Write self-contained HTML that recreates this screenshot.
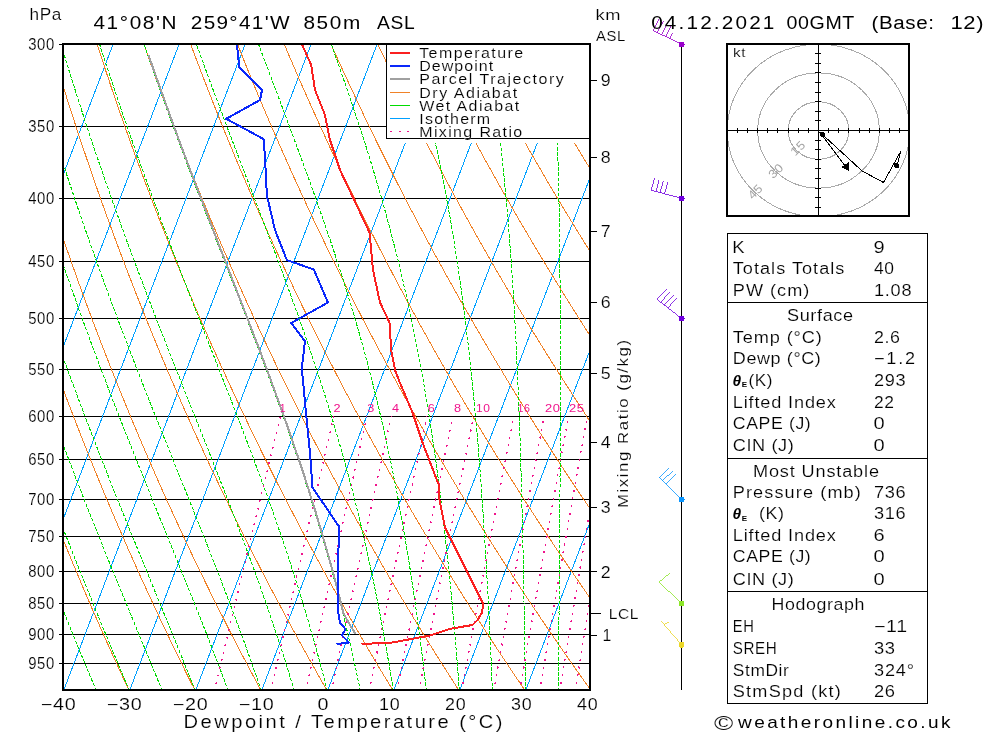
<!DOCTYPE html>
<html><head><meta charset="utf-8"><title>Skew-T</title><style>html,body{margin:0;padding:0;background:#fff;font-family:"Liberation Sans",sans-serif}svg{display:block;will-change:transform}text{stroke:#fff;stroke-width:.15px;paint-order:fill stroke}text.b{stroke:none}</style></head><body>
<svg width="1000" height="733" viewBox="0 0 1000 733" shape-rendering="crispEdges" font-family="Liberation Sans, sans-serif">
<defs><clipPath id="cp"><rect x="64.0" y="45.0" width="525.0" height="644.0"/></clipPath></defs>
<g clip-path="url(#cp)" fill="none" shape-rendering="crispEdges">
<line x1="63.0" y1="126.5" x2="590.0" y2="126.5" stroke="#000" stroke-width="1"/>
<line x1="63.0" y1="198.5" x2="590.0" y2="198.5" stroke="#000" stroke-width="1"/>
<line x1="63.0" y1="261.5" x2="590.0" y2="261.5" stroke="#000" stroke-width="1"/>
<line x1="63.0" y1="318.5" x2="590.0" y2="318.5" stroke="#000" stroke-width="1"/>
<line x1="63.0" y1="369.5" x2="590.0" y2="369.5" stroke="#000" stroke-width="1"/>
<line x1="63.0" y1="416.5" x2="590.0" y2="416.5" stroke="#000" stroke-width="1"/>
<line x1="63.0" y1="459.5" x2="590.0" y2="459.5" stroke="#000" stroke-width="1"/>
<line x1="63.0" y1="499.5" x2="590.0" y2="499.5" stroke="#000" stroke-width="1"/>
<line x1="63.0" y1="536.5" x2="590.0" y2="536.5" stroke="#000" stroke-width="1"/>
<line x1="63.0" y1="571.5" x2="590.0" y2="571.5" stroke="#000" stroke-width="1"/>
<line x1="63.0" y1="603.5" x2="590.0" y2="603.5" stroke="#000" stroke-width="1"/>
<line x1="63.0" y1="634.5" x2="590.0" y2="634.5" stroke="#000" stroke-width="1"/>
<line x1="63.0" y1="663.5" x2="590.0" y2="663.5" stroke="#000" stroke-width="1"/>
<path d="M-464.2 690.0 L-216.8 44.0 M-398.2 690.0 L-150.8 44.0 M-332.2 690.0 L-84.8 44.0 M-266.2 690.0 L-18.8 44.0 M-200.2 690.0 L47.2 44.0 M-134.2 690.0 L113.2 44.0 M-68.2 690.0 L179.2 44.0 M-2.2 690.0 L245.2 44.0 M63.8 690.0 L311.2 44.0 M129.8 690.0 L377.2 44.0 M195.8 690.0 L443.2 44.0 M261.8 690.0 L509.2 44.0 M327.8 690.0 L575.2 44.0 M393.8 690.0 L641.2 44.0 M459.8 690.0 L707.2 44.0 M525.8 690.0 L773.2 44.0 M591.8 690.0 L839.2 44.0" stroke="#00a0ff" stroke-width="1"/>
<path d="M128.9 690.0 L126.5 685.0 L124.2 680.0 L121.9 675.0 L119.6 670.0 L117.3 665.0 L115.0 660.0 L112.7 655.0 L110.4 650.0 L108.2 645.0 L105.9 640.0 L103.7 635.0 L101.5 630.0 L99.3 625.0 L97.1 620.0 L94.9 615.0 L92.7 610.0 L90.5 605.0 L88.4 600.0 L86.2 595.0 L84.1 590.0 L82.0 585.0 L79.9 580.0 L77.8 575.0 L75.7 570.0 L73.6 565.0 L71.5 560.0 L69.5 555.0 L67.4 550.0 L65.4 545.0 L63.3 540.0 L61.3 535.0 L59.3 530.0 L57.3 525.0 L55.3 520.0 L53.4 515.0 L51.4 510.0 L49.4 505.0 L47.5 500.0 L45.6 495.0 L43.6 490.0 L41.7 485.0 L39.8 480.0 L37.9 475.0 L36.0 470.0 L34.2 465.0 L32.3 460.0 L30.4 455.0 L28.6 450.0 L26.8 445.0 L24.9 440.0 L23.1 435.0 L21.3 430.0 L19.5 425.0 L17.7 420.0 L16.0 415.0 L14.2 410.0 L12.4 405.0 L10.7 400.0 L9.0 395.0 L7.2 390.0 L5.5 385.0 L3.8 380.0 L2.1 375.0 L0.4 370.0 L-1.2 365.0 L-2.9 360.0 L-4.6 355.0 L-6.2 350.0 L-7.9 345.0 L-9.5 340.0 L-11.1 335.0 L-12.7 330.0 L-14.3 325.0 L-15.9 320.0 L-17.5 315.0 L-19.1 310.0 L-20.6 305.0 L-22.2 300.0 L-23.8 295.0 L-25.3 290.0 L-26.8 285.0 L-28.3 280.0 L-29.8 275.0 L-31.3 270.0 L-32.8 265.0 L-34.3 260.0 L-35.8 255.0 L-37.3 250.0 L-38.7 245.0 L-40.2 240.0 L-41.6 235.0 L-43.0 230.0 L-44.5 225.0 L-45.9 220.0 L-47.3 215.0 L-48.7 210.0 L-50.0 205.0 L-51.4 200.0 L-52.8 195.0 L-54.1 190.0 L-55.5 185.0 L-56.8 180.0 L-58.2 175.0 L-59.5 170.0 L-60.8 165.0 L-62.1 160.0 L-63.4 155.0 L-64.7 150.0 L-66.0 145.0 L-67.3 140.0 L-68.5 135.0 L-69.8 130.0 L-71.0 125.0 L-72.3 120.0 L-73.5 115.0 L-74.7 110.0 L-75.9 105.0 L-77.1 100.0 L-78.3 95.0 L-79.5 90.0 L-80.7 85.0 L-81.9 80.0 L-83.0 75.0 L-84.2 70.0 L-85.3 65.0 L-86.5 60.0 L-87.6 55.0 L-88.7 50.0 L-89.9 45.0 L-90.1 44.0 M194.9 690.0 L192.3 685.0 L189.8 680.0 L187.3 675.0 L184.8 670.0 L182.4 665.0 L179.9 660.0 L177.5 655.0 L175.0 650.0 L172.6 645.0 L170.2 640.0 L167.8 635.0 L165.4 630.0 L163.0 625.0 L160.6 620.0 L158.3 615.0 L155.9 610.0 L153.6 605.0 L151.3 600.0 L149.0 595.0 L146.7 590.0 L144.4 585.0 L142.1 580.0 L139.8 575.0 L137.6 570.0 L135.3 565.0 L133.1 560.0 L130.9 555.0 L128.6 550.0 L126.4 545.0 L124.3 540.0 L122.1 535.0 L119.9 530.0 L117.7 525.0 L115.6 520.0 L113.5 515.0 L111.3 510.0 L109.2 505.0 L107.1 500.0 L105.0 495.0 L102.9 490.0 L100.9 485.0 L98.8 480.0 L96.8 475.0 L94.7 470.0 L92.7 465.0 L90.7 460.0 L88.7 455.0 L86.7 450.0 L84.7 445.0 L82.7 440.0 L80.7 435.0 L78.8 430.0 L76.8 425.0 L74.9 420.0 L73.0 415.0 L71.0 410.0 L69.1 405.0 L67.2 400.0 L65.3 395.0 L63.5 390.0 L61.6 385.0 L59.7 380.0 L57.9 375.0 L56.1 370.0 L54.2 365.0 L52.4 360.0 L50.6 355.0 L48.8 350.0 L47.0 345.0 L45.3 340.0 L43.5 335.0 L41.7 330.0 L40.0 325.0 L38.3 320.0 L36.5 315.0 L34.8 310.0 L33.1 305.0 L31.4 300.0 L29.7 295.0 L28.0 290.0 L26.4 285.0 L24.7 280.0 L23.1 275.0 L21.4 270.0 L19.8 265.0 L18.2 260.0 L16.5 255.0 L14.9 250.0 L13.3 245.0 L11.8 240.0 L10.2 235.0 L8.6 230.0 L7.1 225.0 L5.5 220.0 L4.0 215.0 L2.4 210.0 L0.9 205.0 L-0.6 200.0 L-2.1 195.0 L-3.6 190.0 L-5.1 185.0 L-6.5 180.0 L-8.0 175.0 L-9.5 170.0 L-10.9 165.0 L-12.4 160.0 L-13.8 155.0 L-15.2 150.0 L-16.6 145.0 L-18.0 140.0 L-19.4 135.0 L-20.8 130.0 L-22.2 125.0 L-23.6 120.0 L-24.9 115.0 L-26.3 110.0 L-27.6 105.0 L-28.9 100.0 L-30.3 95.0 L-31.6 90.0 L-32.9 85.0 L-34.2 80.0 L-35.5 75.0 L-36.8 70.0 L-38.0 65.0 L-39.3 60.0 L-40.6 55.0 L-41.8 50.0 L-43.1 45.0 L-43.3 44.0 M260.8 690.0 L258.1 685.0 L255.4 680.0 L252.8 675.0 L250.1 670.0 L247.5 665.0 L244.8 660.0 L242.2 655.0 L239.6 650.0 L237.0 645.0 L234.4 640.0 L231.8 635.0 L229.3 630.0 L226.7 625.0 L224.2 620.0 L221.7 615.0 L219.1 610.0 L216.6 605.0 L214.1 600.0 L211.7 595.0 L209.2 590.0 L206.7 585.0 L204.3 580.0 L201.9 575.0 L199.4 570.0 L197.0 565.0 L194.6 560.0 L192.2 555.0 L189.9 550.0 L187.5 545.0 L185.2 540.0 L182.8 535.0 L180.5 530.0 L178.2 525.0 L175.9 520.0 L173.6 515.0 L171.3 510.0 L169.0 505.0 L166.7 500.0 L164.5 495.0 L162.2 490.0 L160.0 485.0 L157.8 480.0 L155.6 475.0 L153.4 470.0 L151.2 465.0 L149.0 460.0 L146.9 455.0 L144.7 450.0 L142.6 445.0 L140.4 440.0 L138.3 435.0 L136.2 430.0 L134.1 425.0 L132.0 420.0 L129.9 415.0 L127.9 410.0 L125.8 405.0 L123.8 400.0 L121.7 395.0 L119.7 390.0 L117.7 385.0 L115.7 380.0 L113.7 375.0 L111.7 370.0 L109.7 365.0 L107.8 360.0 L105.8 355.0 L103.9 350.0 L101.9 345.0 L100.0 340.0 L98.1 335.0 L96.2 330.0 L94.3 325.0 L92.4 320.0 L90.6 315.0 L88.7 310.0 L86.8 305.0 L85.0 300.0 L83.2 295.0 L81.4 290.0 L79.5 285.0 L77.7 280.0 L75.9 275.0 L74.2 270.0 L72.4 265.0 L70.6 260.0 L68.9 255.0 L67.1 250.0 L65.4 245.0 L63.7 240.0 L62.0 235.0 L60.3 230.0 L58.6 225.0 L56.9 220.0 L55.2 215.0 L53.5 210.0 L51.9 205.0 L50.2 200.0 L48.6 195.0 L47.0 190.0 L45.4 185.0 L43.7 180.0 L42.1 175.0 L40.6 170.0 L39.0 165.0 L37.4 160.0 L35.8 155.0 L34.3 150.0 L32.7 145.0 L31.2 140.0 L29.7 135.0 L28.2 130.0 L26.7 125.0 L25.2 120.0 L23.7 115.0 L22.2 110.0 L20.7 105.0 L19.3 100.0 L17.8 95.0 L16.4 90.0 L14.9 85.0 L13.5 80.0 L12.1 75.0 L10.7 70.0 L9.3 65.0 L7.9 60.0 L6.5 55.0 L5.1 50.0 L3.8 45.0 L3.5 44.0 M326.8 690.0 L323.9 685.0 L321.0 680.0 L318.2 675.0 L315.4 670.0 L312.6 665.0 L309.7 660.0 L307.0 655.0 L304.2 650.0 L301.4 645.0 L298.6 640.0 L295.9 635.0 L293.2 630.0 L290.4 625.0 L287.7 620.0 L285.0 615.0 L282.4 610.0 L279.7 605.0 L277.0 600.0 L274.4 595.0 L271.7 590.0 L269.1 585.0 L266.5 580.0 L263.9 575.0 L261.3 570.0 L258.8 565.0 L256.2 560.0 L253.6 555.0 L251.1 550.0 L248.6 545.0 L246.1 540.0 L243.6 535.0 L241.1 530.0 L238.6 525.0 L236.1 520.0 L233.7 515.0 L231.2 510.0 L228.8 505.0 L226.4 500.0 L223.9 495.0 L221.6 490.0 L219.2 485.0 L216.8 480.0 L214.4 475.0 L212.1 470.0 L209.7 465.0 L207.4 460.0 L205.1 455.0 L202.8 450.0 L200.5 445.0 L198.2 440.0 L195.9 435.0 L193.6 430.0 L191.4 425.0 L189.2 420.0 L186.9 415.0 L184.7 410.0 L182.5 405.0 L180.3 400.0 L178.1 395.0 L175.9 390.0 L173.8 385.0 L171.6 380.0 L169.5 375.0 L167.3 370.0 L165.2 365.0 L163.1 360.0 L161.0 355.0 L158.9 350.0 L156.8 345.0 L154.8 340.0 L152.7 335.0 L150.7 330.0 L148.6 325.0 L146.6 320.0 L144.6 315.0 L142.6 310.0 L140.6 305.0 L138.6 300.0 L136.6 295.0 L134.7 290.0 L132.7 285.0 L130.8 280.0 L128.8 275.0 L126.9 270.0 L125.0 265.0 L123.1 260.0 L121.2 255.0 L119.3 250.0 L117.5 245.0 L115.6 240.0 L113.7 235.0 L111.9 230.0 L110.1 225.0 L108.3 220.0 L106.4 215.0 L104.6 210.0 L102.8 205.0 L101.1 200.0 L99.3 195.0 L97.5 190.0 L95.8 185.0 L94.0 180.0 L92.3 175.0 L90.6 170.0 L88.9 165.0 L87.2 160.0 L85.5 155.0 L83.8 150.0 L82.1 145.0 L80.4 140.0 L78.8 135.0 L77.1 130.0 L75.5 125.0 L73.9 120.0 L72.2 115.0 L70.6 110.0 L69.0 105.0 L67.4 100.0 L65.9 95.0 L64.3 90.0 L62.7 85.0 L61.2 80.0 L59.6 75.0 L58.1 70.0 L56.6 65.0 L55.1 60.0 L53.5 55.0 L52.0 50.0 L50.6 45.0 L50.3 44.0 M392.7 690.0 L389.7 685.0 L386.7 680.0 L383.6 675.0 L380.6 670.0 L377.6 665.0 L374.7 660.0 L371.7 655.0 L368.7 650.0 L365.8 645.0 L362.9 640.0 L360.0 635.0 L357.1 630.0 L354.2 625.0 L351.3 620.0 L348.4 615.0 L345.6 610.0 L342.7 605.0 L339.9 600.0 L337.1 595.0 L334.3 590.0 L331.5 585.0 L328.7 580.0 L326.0 575.0 L323.2 570.0 L320.5 565.0 L317.7 560.0 L315.0 555.0 L312.3 550.0 L309.6 545.0 L307.0 540.0 L304.3 535.0 L301.6 530.0 L299.0 525.0 L296.4 520.0 L293.8 515.0 L291.2 510.0 L288.6 505.0 L286.0 500.0 L283.4 495.0 L280.9 490.0 L278.3 485.0 L275.8 480.0 L273.3 475.0 L270.7 470.0 L268.2 465.0 L265.8 460.0 L263.3 455.0 L260.8 450.0 L258.4 445.0 L255.9 440.0 L253.5 435.0 L251.1 430.0 L248.7 425.0 L246.3 420.0 L243.9 415.0 L241.5 410.0 L239.2 405.0 L236.8 400.0 L234.5 395.0 L232.2 390.0 L229.9 385.0 L227.6 380.0 L225.3 375.0 L223.0 370.0 L220.7 365.0 L218.5 360.0 L216.2 355.0 L214.0 350.0 L211.7 345.0 L209.5 340.0 L207.3 335.0 L205.1 330.0 L203.0 325.0 L200.8 320.0 L198.6 315.0 L196.5 310.0 L194.3 305.0 L192.2 300.0 L190.1 295.0 L188.0 290.0 L185.9 285.0 L183.8 280.0 L181.7 275.0 L179.7 270.0 L177.6 265.0 L175.6 260.0 L173.6 255.0 L171.5 250.0 L169.5 245.0 L167.5 240.0 L165.5 235.0 L163.6 230.0 L161.6 225.0 L159.6 220.0 L157.7 215.0 L155.7 210.0 L153.8 205.0 L151.9 200.0 L150.0 195.0 L148.1 190.0 L146.2 185.0 L144.3 180.0 L142.5 175.0 L140.6 170.0 L138.8 165.0 L136.9 160.0 L135.1 155.0 L133.3 150.0 L131.5 145.0 L129.7 140.0 L127.9 135.0 L126.1 130.0 L124.3 125.0 L122.6 120.0 L120.8 115.0 L119.1 110.0 L117.4 105.0 L115.6 100.0 L113.9 95.0 L112.2 90.0 L110.5 85.0 L108.9 80.0 L107.2 75.0 L105.5 70.0 L103.9 65.0 L102.2 60.0 L100.6 55.0 L99.0 50.0 L97.4 45.0 L97.0 44.0 M458.7 690.0 L455.5 685.0 L452.3 680.0 L449.1 675.0 L445.9 670.0 L442.7 665.0 L439.6 660.0 L436.4 655.0 L433.3 650.0 L430.2 645.0 L427.1 640.0 L424.0 635.0 L420.9 630.0 L417.9 625.0 L414.8 620.0 L411.8 615.0 L408.8 610.0 L405.8 605.0 L402.8 600.0 L399.8 595.0 L396.8 590.0 L393.9 585.0 L390.9 580.0 L388.0 575.0 L385.1 570.0 L382.2 565.0 L379.3 560.0 L376.4 555.0 L373.6 550.0 L370.7 545.0 L367.9 540.0 L365.0 535.0 L362.2 530.0 L359.4 525.0 L356.6 520.0 L353.9 515.0 L351.1 510.0 L348.3 505.0 L345.6 500.0 L342.9 495.0 L340.2 490.0 L337.5 485.0 L334.8 480.0 L332.1 475.0 L329.4 470.0 L326.8 465.0 L324.1 460.0 L321.5 455.0 L318.9 450.0 L316.3 445.0 L313.7 440.0 L311.1 435.0 L308.5 430.0 L306.0 425.0 L303.4 420.0 L300.9 415.0 L298.4 410.0 L295.9 405.0 L293.4 400.0 L290.9 395.0 L288.4 390.0 L285.9 385.0 L283.5 380.0 L281.1 375.0 L278.6 370.0 L276.2 365.0 L273.8 360.0 L271.4 355.0 L269.0 350.0 L266.7 345.0 L264.3 340.0 L261.9 335.0 L259.6 330.0 L257.3 325.0 L255.0 320.0 L252.7 315.0 L250.4 310.0 L248.1 305.0 L245.8 300.0 L243.6 295.0 L241.3 290.0 L239.1 285.0 L236.9 280.0 L234.6 275.0 L232.4 270.0 L230.2 265.0 L228.1 260.0 L225.9 255.0 L223.7 250.0 L221.6 245.0 L219.4 240.0 L217.3 235.0 L215.2 230.0 L213.1 225.0 L211.0 220.0 L208.9 215.0 L206.8 210.0 L204.8 205.0 L202.7 200.0 L200.7 195.0 L198.6 190.0 L196.6 185.0 L194.6 180.0 L192.6 175.0 L190.6 170.0 L188.6 165.0 L186.7 160.0 L184.7 155.0 L182.8 150.0 L180.8 145.0 L178.9 140.0 L177.0 135.0 L175.1 130.0 L173.2 125.0 L171.3 120.0 L169.4 115.0 L167.5 110.0 L165.7 105.0 L163.8 100.0 L162.0 95.0 L160.2 90.0 L158.4 85.0 L156.5 80.0 L154.7 75.0 L153.0 70.0 L151.2 65.0 L149.4 60.0 L147.7 55.0 L145.9 50.0 L144.2 45.0 L143.8 44.0 M524.7 690.0 L521.3 685.0 L517.9 680.0 L514.5 675.0 L511.2 670.0 L507.8 665.0 L504.5 660.0 L501.2 655.0 L497.9 650.0 L494.6 645.0 L491.3 640.0 L488.1 635.0 L484.8 630.0 L481.6 625.0 L478.4 620.0 L475.2 615.0 L472.0 610.0 L468.8 605.0 L465.7 600.0 L462.5 595.0 L459.4 590.0 L456.3 585.0 L453.2 580.0 L450.1 575.0 L447.0 570.0 L443.9 565.0 L440.9 560.0 L437.8 555.0 L434.8 550.0 L431.8 545.0 L428.8 540.0 L425.8 535.0 L422.8 530.0 L419.8 525.0 L416.9 520.0 L414.0 515.0 L411.0 510.0 L408.1 505.0 L405.2 500.0 L402.3 495.0 L399.5 490.0 L396.6 485.0 L393.8 480.0 L390.9 475.0 L388.1 470.0 L385.3 465.0 L382.5 460.0 L379.7 455.0 L376.9 450.0 L374.2 445.0 L371.4 440.0 L368.7 435.0 L366.0 430.0 L363.3 425.0 L360.6 420.0 L357.9 415.0 L355.2 410.0 L352.5 405.0 L349.9 400.0 L347.3 395.0 L344.6 390.0 L342.0 385.0 L339.4 380.0 L336.8 375.0 L334.3 370.0 L331.7 365.0 L329.1 360.0 L326.6 355.0 L324.1 350.0 L321.6 345.0 L319.0 340.0 L316.6 335.0 L314.1 330.0 L311.6 325.0 L309.1 320.0 L306.7 315.0 L304.3 310.0 L301.8 305.0 L299.4 300.0 L297.0 295.0 L294.6 290.0 L292.3 285.0 L289.9 280.0 L287.5 275.0 L285.2 270.0 L282.9 265.0 L280.5 260.0 L278.2 255.0 L275.9 250.0 L273.6 245.0 L271.4 240.0 L269.1 235.0 L266.8 230.0 L264.6 225.0 L262.4 220.0 L260.1 215.0 L257.9 210.0 L255.7 205.0 L253.5 200.0 L251.4 195.0 L249.2 190.0 L247.0 185.0 L244.9 180.0 L242.8 175.0 L240.6 170.0 L238.5 165.0 L236.4 160.0 L234.3 155.0 L232.3 150.0 L230.2 145.0 L228.1 140.0 L226.1 135.0 L224.0 130.0 L222.0 125.0 L220.0 120.0 L218.0 115.0 L216.0 110.0 L214.0 105.0 L212.0 100.0 L210.1 95.0 L208.1 90.0 L206.2 85.0 L204.2 80.0 L202.3 75.0 L200.4 70.0 L198.5 65.0 L196.6 60.0 L194.7 55.0 L192.8 50.0 L191.0 45.0 L190.6 44.0 M590.6 690.0 L587.1 685.0 L583.5 680.0 L580.0 675.0 L576.4 670.0 L572.9 665.0 L569.4 660.0 L565.9 655.0 L562.5 650.0 L559.0 645.0 L555.6 640.0 L552.1 635.0 L548.7 630.0 L545.3 625.0 L541.9 620.0 L538.6 615.0 L535.2 610.0 L531.9 605.0 L528.5 600.0 L525.2 595.0 L521.9 590.0 L518.6 585.0 L515.4 580.0 L512.1 575.0 L508.9 570.0 L505.6 565.0 L502.4 560.0 L499.2 555.0 L496.0 550.0 L492.8 545.0 L489.7 540.0 L486.5 535.0 L483.4 530.0 L480.3 525.0 L477.2 520.0 L474.1 515.0 L471.0 510.0 L467.9 505.0 L464.8 500.0 L461.8 495.0 L458.8 490.0 L455.8 485.0 L452.8 480.0 L449.8 475.0 L446.8 470.0 L443.8 465.0 L440.9 460.0 L437.9 455.0 L435.0 450.0 L432.1 445.0 L429.2 440.0 L426.3 435.0 L423.4 430.0 L420.6 425.0 L417.7 420.0 L414.9 415.0 L412.0 410.0 L409.2 405.0 L406.4 400.0 L403.6 395.0 L400.9 390.0 L398.1 385.0 L395.4 380.0 L392.6 375.0 L389.9 370.0 L387.2 365.0 L384.5 360.0 L381.8 355.0 L379.1 350.0 L376.5 345.0 L373.8 340.0 L371.2 335.0 L368.5 330.0 L365.9 325.0 L363.3 320.0 L360.7 315.0 L358.2 310.0 L355.6 305.0 L353.0 300.0 L350.5 295.0 L348.0 290.0 L345.4 285.0 L342.9 280.0 L340.4 275.0 L337.9 270.0 L335.5 265.0 L333.0 260.0 L330.6 255.0 L328.1 250.0 L325.7 245.0 L323.3 240.0 L320.9 235.0 L318.5 230.0 L316.1 225.0 L313.7 220.0 L311.4 215.0 L309.0 210.0 L306.7 205.0 L304.4 200.0 L302.1 195.0 L299.8 190.0 L297.5 185.0 L295.2 180.0 L292.9 175.0 L290.7 170.0 L288.4 165.0 L286.2 160.0 L284.0 155.0 L281.8 150.0 L279.6 145.0 L277.4 140.0 L275.2 135.0 L273.0 130.0 L270.9 125.0 L268.7 120.0 L266.6 115.0 L264.4 110.0 L262.3 105.0 L260.2 100.0 L258.1 95.0 L256.1 90.0 L254.0 85.0 L251.9 80.0 L249.9 75.0 L247.8 70.0 L245.8 65.0 L243.8 60.0 L241.8 55.0 L239.8 50.0 L237.8 45.0 L237.4 44.0 M656.6 690.0 L652.8 685.0 L649.1 680.0 L645.4 675.0 L641.7 670.0 L638.0 665.0 L634.3 660.0 L630.7 655.0 L627.0 650.0 L623.4 645.0 L619.8 640.0 L616.2 635.0 L612.6 630.0 L609.0 625.0 L605.5 620.0 L602.0 615.0 L598.4 610.0 L594.9 605.0 L591.4 600.0 L587.9 595.0 L584.5 590.0 L581.0 585.0 L577.6 580.0 L574.2 575.0 L570.7 570.0 L567.4 565.0 L564.0 560.0 L560.6 555.0 L557.2 550.0 L553.9 545.0 L550.6 540.0 L547.3 535.0 L544.0 530.0 L540.7 525.0 L537.4 520.0 L534.2 515.0 L530.9 510.0 L527.7 505.0 L524.5 500.0 L521.3 495.0 L518.1 490.0 L514.9 485.0 L511.7 480.0 L508.6 475.0 L505.5 470.0 L502.3 465.0 L499.2 460.0 L496.1 455.0 L493.1 450.0 L490.0 445.0 L486.9 440.0 L483.9 435.0 L480.9 430.0 L477.8 425.0 L474.8 420.0 L471.9 415.0 L468.9 410.0 L465.9 405.0 L463.0 400.0 L460.0 395.0 L457.1 390.0 L454.2 385.0 L451.3 380.0 L448.4 375.0 L445.5 370.0 L442.7 365.0 L439.8 360.0 L437.0 355.0 L434.2 350.0 L431.4 345.0 L428.6 340.0 L425.8 335.0 L423.0 330.0 L420.2 325.0 L417.5 320.0 L414.8 315.0 L412.0 310.0 L409.3 305.0 L406.6 300.0 L403.9 295.0 L401.3 290.0 L398.6 285.0 L396.0 280.0 L393.3 275.0 L390.7 270.0 L388.1 265.0 L385.5 260.0 L382.9 255.0 L380.3 250.0 L377.8 245.0 L375.2 240.0 L372.7 235.0 L370.1 230.0 L367.6 225.0 L365.1 220.0 L362.6 215.0 L360.1 210.0 L357.7 205.0 L355.2 200.0 L352.8 195.0 L350.3 190.0 L347.9 185.0 L345.5 180.0 L343.1 175.0 L340.7 170.0 L338.3 165.0 L335.9 160.0 L333.6 155.0 L331.2 150.0 L328.9 145.0 L326.6 140.0 L324.3 135.0 L322.0 130.0 L319.7 125.0 L317.4 120.0 L315.2 115.0 L312.9 110.0 L310.7 105.0 L308.4 100.0 L306.2 95.0 L304.0 90.0 L301.8 85.0 L299.6 80.0 L297.4 75.0 L295.3 70.0 L293.1 65.0 L291.0 60.0 L288.8 55.0 L286.7 50.0 L284.6 45.0 L284.2 44.0 M722.6 690.0 L718.6 685.0 L714.7 680.0 L710.8 675.0 L707.0 670.0 L703.1 665.0 L699.3 660.0 L695.4 655.0 L691.6 650.0 L687.8 645.0 L684.0 640.0 L680.3 635.0 L676.5 630.0 L672.8 625.0 L669.0 620.0 L665.3 615.0 L661.6 610.0 L658.0 605.0 L654.3 600.0 L650.7 595.0 L647.0 590.0 L643.4 585.0 L639.8 580.0 L636.2 575.0 L632.6 570.0 L629.1 565.0 L625.5 560.0 L622.0 555.0 L618.5 550.0 L615.0 545.0 L611.5 540.0 L608.0 535.0 L604.6 530.0 L601.1 525.0 L597.7 520.0 L594.3 515.0 L590.9 510.0 L587.5 505.0 L584.1 500.0 L580.7 495.0 L577.4 490.0 L574.1 485.0 L570.7 480.0 L567.4 475.0 L564.1 470.0 L560.9 465.0 L557.6 460.0 L554.3 455.0 L551.1 450.0 L547.9 445.0 L544.7 440.0 L541.5 435.0 L538.3 430.0 L535.1 425.0 L532.0 420.0 L528.8 415.0 L525.7 410.0 L522.6 405.0 L519.5 400.0 L516.4 395.0 L513.3 390.0 L510.3 385.0 L507.2 380.0 L504.2 375.0 L501.2 370.0 L498.2 365.0 L495.2 360.0 L492.2 355.0 L489.2 350.0 L486.3 345.0 L483.3 340.0 L480.4 335.0 L477.5 330.0 L474.6 325.0 L471.7 320.0 L468.8 315.0 L465.9 310.0 L463.1 305.0 L460.2 300.0 L457.4 295.0 L454.6 290.0 L451.8 285.0 L449.0 280.0 L446.2 275.0 L443.5 270.0 L440.7 265.0 L438.0 260.0 L435.2 255.0 L432.5 250.0 L429.8 245.0 L427.1 240.0 L424.4 235.0 L421.8 230.0 L419.1 225.0 L416.5 220.0 L413.9 215.0 L411.2 210.0 L408.6 205.0 L406.0 200.0 L403.5 195.0 L400.9 190.0 L398.3 185.0 L395.8 180.0 L393.2 175.0 L390.7 170.0 L388.2 165.0 L385.7 160.0 L383.2 155.0 L380.7 150.0 L378.3 145.0 L375.8 140.0 L373.4 135.0 L371.0 130.0 L368.5 125.0 L366.1 120.0 L363.7 115.0 L361.4 110.0 L359.0 105.0 L356.6 100.0 L354.3 95.0 L351.9 90.0 L349.6 85.0 L347.3 80.0 L345.0 75.0 L342.7 70.0 L340.4 65.0 L338.1 60.0 L335.9 55.0 L333.6 50.0 L331.4 45.0 L330.9 44.0 M788.5 690.0 L784.4 685.0 L780.3 680.0 L776.3 675.0 L772.2 670.0 L768.2 665.0 L764.2 660.0 L760.2 655.0 L756.2 650.0 L752.2 645.0 L748.3 640.0 L744.3 635.0 L740.4 630.0 L736.5 625.0 L732.6 620.0 L728.7 615.0 L724.9 610.0 L721.0 605.0 L717.2 600.0 L713.4 595.0 L709.6 590.0 L705.8 585.0 L702.0 580.0 L698.3 575.0 L694.5 570.0 L690.8 565.0 L687.1 560.0 L683.4 555.0 L679.7 550.0 L676.0 545.0 L672.4 540.0 L668.8 535.0 L665.1 530.0 L661.5 525.0 L657.9 520.0 L654.4 515.0 L650.8 510.0 L647.2 505.0 L643.7 500.0 L640.2 495.0 L636.7 490.0 L633.2 485.0 L629.7 480.0 L626.3 475.0 L622.8 470.0 L619.4 465.0 L616.0 460.0 L612.6 455.0 L609.2 450.0 L605.8 445.0 L602.4 440.0 L599.1 435.0 L595.7 430.0 L592.4 425.0 L589.1 420.0 L585.8 415.0 L582.6 410.0 L579.3 405.0 L576.0 400.0 L572.8 395.0 L569.6 390.0 L566.4 385.0 L563.2 380.0 L560.0 375.0 L556.8 370.0 L553.7 365.0 L550.5 360.0 L547.4 355.0 L544.3 350.0 L541.2 345.0 L538.1 340.0 L535.0 335.0 L531.9 330.0 L528.9 325.0 L525.9 320.0 L522.8 315.0 L519.8 310.0 L516.8 305.0 L513.8 300.0 L510.9 295.0 L507.9 290.0 L505.0 285.0 L502.0 280.0 L499.1 275.0 L496.2 270.0 L493.3 265.0 L490.4 260.0 L487.6 255.0 L484.7 250.0 L481.9 245.0 L479.0 240.0 L476.2 235.0 L473.4 230.0 L470.6 225.0 L467.9 220.0 L465.1 215.0 L462.3 210.0 L459.6 205.0 L456.9 200.0 L454.1 195.0 L451.4 190.0 L448.7 185.0 L446.1 180.0 L443.4 175.0 L440.7 170.0 L438.1 165.0 L435.5 160.0 L432.8 155.0 L430.2 150.0 L427.6 145.0 L425.1 140.0 L422.5 135.0 L419.9 130.0 L417.4 125.0 L414.8 120.0 L412.3 115.0 L409.8 110.0 L407.3 105.0 L404.8 100.0 L402.3 95.0 L399.9 90.0 L397.4 85.0 L395.0 80.0 L392.5 75.0 L390.1 70.0 L387.7 65.0 L385.3 60.0 L382.9 55.0 L380.6 50.0 L378.2 45.0 L377.7 44.0 M854.5 690.0 L850.2 685.0 L845.9 680.0 L841.7 675.0 L837.5 670.0 L833.3 665.0 L829.1 660.0 L824.9 655.0 L820.8 650.0 L816.6 645.0 L812.5 640.0 L808.4 635.0 L804.3 630.0 L800.2 625.0 L796.1 620.0 L792.1 615.0 L788.1 610.0 L784.1 605.0 L780.1 600.0 L776.1 595.0 L772.1 590.0 L768.2 585.0 L764.2 580.0 L760.3 575.0 L756.4 570.0 L752.5 565.0 L748.6 560.0 L744.8 555.0 L740.9 550.0 L737.1 545.0 L733.3 540.0 L729.5 535.0 L725.7 530.0 L721.9 525.0 L718.2 520.0 L714.5 515.0 L710.7 510.0 L707.0 505.0 L703.3 500.0 L699.7 495.0 L696.0 490.0 L692.3 485.0 L688.7 480.0 L685.1 475.0 L681.5 470.0 L677.9 465.0 L674.3 460.0 L670.8 455.0 L667.2 450.0 L663.7 445.0 L660.2 440.0 L656.7 435.0 L653.2 430.0 L649.7 425.0 L646.3 420.0 L642.8 415.0 L639.4 410.0 L636.0 405.0 L632.6 400.0 L629.2 395.0 L625.8 390.0 L622.4 385.0 L619.1 380.0 L615.8 375.0 L612.5 370.0 L609.1 365.0 L605.9 360.0 L602.6 355.0 L599.3 350.0 L596.1 345.0 L592.8 340.0 L589.6 335.0 L586.4 330.0 L583.2 325.0 L580.0 320.0 L576.9 315.0 L573.7 310.0 L570.6 305.0 L567.5 300.0 L564.3 295.0 L561.2 290.0 L558.2 285.0 L555.1 280.0 L552.0 275.0 L549.0 270.0 L545.9 265.0 L542.9 260.0 L539.9 255.0 L536.9 250.0 L533.9 245.0 L531.0 240.0 L528.0 235.0 L525.1 230.0 L522.1 225.0 L519.2 220.0 L516.3 215.0 L513.4 210.0 L510.6 205.0 L507.7 200.0 L504.8 195.0 L502.0 190.0 L499.2 185.0 L496.4 180.0 L493.6 175.0 L490.8 170.0 L488.0 165.0 L485.2 160.0 L482.5 155.0 L479.7 150.0 L477.0 145.0 L474.3 140.0 L471.6 135.0 L468.9 130.0 L466.2 125.0 L463.6 120.0 L460.9 115.0 L458.3 110.0 L455.6 105.0 L453.0 100.0 L450.4 95.0 L447.8 90.0 L445.2 85.0 L442.7 80.0 L440.1 75.0 L437.6 70.0 L435.0 65.0 L432.5 60.0 L430.0 55.0 L427.5 50.0 L425.0 45.0 L424.5 44.0 M920.4 690.0 L916.0 685.0 L911.6 680.0 L907.1 675.0 L902.7 670.0 L898.4 665.0 L894.0 660.0 L889.7 655.0 L885.3 650.0 L881.0 645.0 L876.7 640.0 L872.4 635.0 L868.2 630.0 L863.9 625.0 L859.7 620.0 L855.5 615.0 L851.3 610.0 L847.1 605.0 L842.9 600.0 L838.8 595.0 L834.7 590.0 L830.5 585.0 L826.4 580.0 L822.4 575.0 L818.3 570.0 L814.2 565.0 L810.2 560.0 L806.2 555.0 L802.2 550.0 L798.2 545.0 L794.2 540.0 L790.2 535.0 L786.3 530.0 L782.4 525.0 L778.5 520.0 L774.6 515.0 L770.7 510.0 L766.8 505.0 L763.0 500.0 L759.1 495.0 L755.3 490.0 L751.5 485.0 L747.7 480.0 L743.9 475.0 L740.2 470.0 L736.4 465.0 L732.7 460.0 L729.0 455.0 L725.3 450.0 L721.6 445.0 L717.9 440.0 L714.3 435.0 L710.6 430.0 L707.0 425.0 L703.4 420.0 L699.8 415.0 L696.2 410.0 L692.7 405.0 L689.1 400.0 L685.6 395.0 L682.0 390.0 L678.5 385.0 L675.0 380.0 L671.6 375.0 L668.1 370.0 L664.6 365.0 L661.2 360.0 L657.8 355.0 L654.4 350.0 L651.0 345.0 L647.6 340.0 L644.2 335.0 L640.9 330.0 L637.5 325.0 L634.2 320.0 L630.9 315.0 L627.6 310.0 L624.3 305.0 L621.1 300.0 L617.8 295.0 L614.6 290.0 L611.3 285.0 L608.1 280.0 L604.9 275.0 L601.7 270.0 L598.6 265.0 L595.4 260.0 L592.2 255.0 L589.1 250.0 L586.0 245.0 L582.9 240.0 L579.8 235.0 L576.7 230.0 L573.7 225.0 L570.6 220.0 L567.6 215.0 L564.5 210.0 L561.5 205.0 L558.5 200.0 L555.5 195.0 L552.6 190.0 L549.6 185.0 L546.6 180.0 L543.7 175.0 L540.8 170.0 L537.9 165.0 L535.0 160.0 L532.1 155.0 L529.2 150.0 L526.4 145.0 L523.5 140.0 L520.7 135.0 L517.9 130.0 L515.1 125.0 L512.3 120.0 L509.5 115.0 L506.7 110.0 L504.0 105.0 L501.2 100.0 L498.5 95.0 L495.8 90.0 L493.0 85.0 L490.3 80.0 L487.7 75.0 L485.0 70.0 L482.3 65.0 L479.7 60.0 L477.0 55.0 L474.4 50.0 L471.8 45.0 L471.3 44.0 M986.4 690.0 L981.8 685.0 L977.2 680.0 L972.6 675.0 L968.0 670.0 L963.5 665.0 L958.9 660.0 L954.4 655.0 L949.9 650.0 L945.4 645.0 L941.0 640.0 L936.5 635.0 L932.1 630.0 L927.7 625.0 L923.3 620.0 L918.9 615.0 L914.5 610.0 L910.2 605.0 L905.8 600.0 L901.5 595.0 L897.2 590.0 L892.9 585.0 L888.6 580.0 L884.4 575.0 L880.2 570.0 L875.9 565.0 L871.7 560.0 L867.6 555.0 L863.4 550.0 L859.2 545.0 L855.1 540.0 L851.0 535.0 L846.9 530.0 L842.8 525.0 L838.7 520.0 L834.7 515.0 L830.6 510.0 L826.6 505.0 L822.6 500.0 L818.6 495.0 L814.6 490.0 L810.6 485.0 L806.7 480.0 L802.8 475.0 L798.8 470.0 L794.9 465.0 L791.1 460.0 L787.2 455.0 L783.3 450.0 L779.5 445.0 L775.7 440.0 L771.9 435.0 L768.1 430.0 L764.3 425.0 L760.5 420.0 L756.8 415.0 L753.1 410.0 L749.3 405.0 L745.6 400.0 L741.9 395.0 L738.3 390.0 L734.6 385.0 L731.0 380.0 L727.3 375.0 L723.7 370.0 L720.1 365.0 L716.5 360.0 L713.0 355.0 L709.4 350.0 L705.9 345.0 L702.4 340.0 L698.8 335.0 L695.3 330.0 L691.9 325.0 L688.4 320.0 L684.9 315.0 L681.5 310.0 L678.1 305.0 L674.7 300.0 L671.3 295.0 L667.9 290.0 L664.5 285.0 L661.2 280.0 L657.8 275.0 L654.5 270.0 L651.2 265.0 L647.9 260.0 L644.6 255.0 L641.3 250.0 L638.1 245.0 L634.8 240.0 L631.6 235.0 L628.4 230.0 L625.2 225.0 L622.0 220.0 L618.8 215.0 L615.6 210.0 L612.5 205.0 L609.3 200.0 L606.2 195.0 L603.1 190.0 L600.0 185.0 L596.9 180.0 L593.9 175.0 L590.8 170.0 L587.8 165.0 L584.7 160.0 L581.7 155.0 L578.7 150.0 L575.7 145.0 L572.8 140.0 L569.8 135.0 L566.8 130.0 L563.9 125.0 L561.0 120.0 L558.1 115.0 L555.2 110.0 L552.3 105.0 L549.4 100.0 L546.5 95.0 L543.7 90.0 L540.9 85.0 L538.0 80.0 L535.2 75.0 L532.4 70.0 L529.6 65.0 L526.9 60.0 L524.1 55.0 L521.4 50.0 L518.6 45.0 L518.1 44.0 M1052.4 690.0 L1047.6 685.0 L1042.8 680.0 L1038.0 675.0 L1033.3 670.0 L1028.6 665.0 L1023.8 660.0 L1019.2 655.0 L1014.5 650.0 L1009.8 645.0 L1005.2 640.0 L1000.6 635.0 L996.0 630.0 L991.4 625.0 L986.8 620.0 L982.2 615.0 L977.7 610.0 L973.2 605.0 L968.7 600.0 L964.2 595.0 L959.7 590.0 L955.3 585.0 L950.9 580.0 L946.4 575.0 L942.0 570.0 L937.7 565.0 L933.3 560.0 L929.0 555.0 L924.6 550.0 L920.3 545.0 L916.0 540.0 L911.7 535.0 L907.5 530.0 L903.2 525.0 L899.0 520.0 L894.8 515.0 L890.6 510.0 L886.4 505.0 L882.2 500.0 L878.0 495.0 L873.9 490.0 L869.8 485.0 L865.7 480.0 L861.6 475.0 L857.5 470.0 L853.5 465.0 L849.4 460.0 L845.4 455.0 L841.4 450.0 L837.4 445.0 L833.4 440.0 L829.5 435.0 L825.5 430.0 L821.6 425.0 L817.7 420.0 L813.8 415.0 L809.9 410.0 L806.0 405.0 L802.2 400.0 L798.3 395.0 L794.5 390.0 L790.7 385.0 L786.9 380.0 L783.1 375.0 L779.4 370.0 L775.6 365.0 L771.9 360.0 L768.2 355.0 L764.5 350.0 L760.8 345.0 L757.1 340.0 L753.5 335.0 L749.8 330.0 L746.2 325.0 L742.6 320.0 L739.0 315.0 L735.4 310.0 L731.8 305.0 L728.3 300.0 L724.7 295.0 L721.2 290.0 L717.7 285.0 L714.2 280.0 L710.7 275.0 L707.2 270.0 L703.8 265.0 L700.3 260.0 L696.9 255.0 L693.5 250.0 L690.1 245.0 L686.7 240.0 L683.4 235.0 L680.0 230.0 L676.7 225.0 L673.3 220.0 L670.0 215.0 L666.7 210.0 L663.4 205.0 L660.2 200.0 L656.9 195.0 L653.7 190.0 L650.4 185.0 L647.2 180.0 L644.0 175.0 L640.8 170.0 L637.7 165.0 L634.5 160.0 L631.4 155.0 L628.2 150.0 L625.1 145.0 L622.0 140.0 L618.9 135.0 L615.8 130.0 L612.7 125.0 L609.7 120.0 L606.6 115.0 L603.6 110.0 L600.6 105.0 L597.6 100.0 L594.6 95.0 L591.6 90.0 L588.7 85.0 L585.7 80.0 L582.8 75.0 L579.9 70.0 L576.9 65.0 L574.0 60.0 L571.2 55.0 L568.3 50.0 L565.4 45.0 L564.9 44.0 M1118.3 690.0 L1113.4 685.0 L1108.4 680.0 L1103.5 675.0 L1098.5 670.0 L1093.6 665.0 L1088.8 660.0 L1083.9 655.0 L1079.1 650.0 L1074.2 645.0 L1069.4 640.0 L1064.6 635.0 L1059.8 630.0 L1055.1 625.0 L1050.4 620.0 L1045.6 615.0 L1040.9 610.0 L1036.2 605.0 L1031.6 600.0 L1026.9 595.0 L1022.3 590.0 L1017.7 585.0 L1013.1 580.0 L1008.5 575.0 L1003.9 570.0 L999.4 565.0 L994.9 560.0 L990.3 555.0 L985.8 550.0 L981.4 545.0 L976.9 540.0 L972.5 535.0 L968.0 530.0 L963.6 525.0 L959.2 520.0 L954.9 515.0 L950.5 510.0 L946.1 505.0 L941.8 500.0 L937.5 495.0 L933.2 490.0 L928.9 485.0 L924.7 480.0 L920.4 475.0 L916.2 470.0 L912.0 465.0 L907.8 460.0 L903.6 455.0 L899.5 450.0 L895.3 445.0 L891.2 440.0 L887.1 435.0 L883.0 430.0 L878.9 425.0 L874.8 420.0 L870.8 415.0 L866.7 410.0 L862.7 405.0 L858.7 400.0 L854.7 395.0 L850.7 390.0 L846.8 385.0 L842.8 380.0 L838.9 375.0 L835.0 370.0 L831.1 365.0 L827.2 360.0 L823.4 355.0 L819.5 350.0 L815.7 345.0 L811.9 340.0 L808.1 335.0 L804.3 330.0 L800.5 325.0 L796.7 320.0 L793.0 315.0 L789.3 310.0 L785.6 305.0 L781.9 300.0 L778.2 295.0 L774.5 290.0 L770.9 285.0 L767.2 280.0 L763.6 275.0 L760.0 270.0 L756.4 265.0 L752.8 260.0 L749.3 255.0 L745.7 250.0 L742.2 245.0 L738.7 240.0 L735.1 235.0 L731.7 230.0 L728.2 225.0 L724.7 220.0 L721.3 215.0 L717.8 210.0 L714.4 205.0 L711.0 200.0 L707.6 195.0 L704.2 190.0 L700.9 185.0 L697.5 180.0 L694.2 175.0 L690.9 170.0 L687.6 165.0 L684.3 160.0 L681.0 155.0 L677.7 150.0 L674.5 145.0 L671.2 140.0 L668.0 135.0 L664.8 130.0 L661.6 125.0 L658.4 120.0 L655.2 115.0 L652.1 110.0 L648.9 105.0 L645.8 100.0 L642.7 95.0 L639.6 90.0 L636.5 85.0 L633.4 80.0 L630.3 75.0 L627.3 70.0 L624.2 65.0 L621.2 60.0 L618.2 55.0 L615.2 50.0 L612.2 45.0 L611.6 44.0 M1184.3 690.0 L1179.1 685.0 L1174.0 680.0 L1168.9 675.0 L1163.8 670.0 L1158.7 665.0 L1153.7 660.0 L1148.6 655.0 L1143.6 650.0 L1138.6 645.0 L1133.6 640.0 L1128.7 635.0 L1123.7 630.0 L1118.8 625.0 L1113.9 620.0 L1109.0 615.0 L1104.1 610.0 L1099.3 605.0 L1094.5 600.0 L1089.6 595.0 L1084.8 590.0 L1080.1 585.0 L1075.3 580.0 L1070.5 575.0 L1065.8 570.0 L1061.1 565.0 L1056.4 560.0 L1051.7 555.0 L1047.1 550.0 L1042.4 545.0 L1037.8 540.0 L1033.2 535.0 L1028.6 530.0 L1024.0 525.0 L1019.5 520.0 L1015.0 515.0 L1010.4 510.0 L1005.9 505.0 L1001.4 500.0 L997.0 495.0 L992.5 490.0 L988.1 485.0 L983.7 480.0 L979.3 475.0 L974.9 470.0 L970.5 465.0 L966.2 460.0 L961.8 455.0 L957.5 450.0 L953.2 445.0 L948.9 440.0 L944.7 435.0 L940.4 430.0 L936.2 425.0 L931.9 420.0 L927.7 415.0 L923.6 410.0 L919.4 405.0 L915.2 400.0 L911.1 395.0 L907.0 390.0 L902.9 385.0 L898.8 380.0 L894.7 375.0 L890.6 370.0 L886.6 365.0 L882.6 360.0 L878.6 355.0 L874.6 350.0 L870.6 345.0 L866.6 340.0 L862.7 335.0 L858.7 330.0 L854.8 325.0 L850.9 320.0 L847.0 315.0 L843.2 310.0 L839.3 305.0 L835.5 300.0 L831.7 295.0 L827.8 290.0 L824.0 285.0 L820.3 280.0 L816.5 275.0 L812.8 270.0 L809.0 265.0 L805.3 260.0 L801.6 255.0 L797.9 250.0 L794.2 245.0 L790.6 240.0 L786.9 235.0 L783.3 230.0 L779.7 225.0 L776.1 220.0 L772.5 215.0 L768.9 210.0 L765.4 205.0 L761.8 200.0 L758.3 195.0 L754.8 190.0 L751.3 185.0 L747.8 180.0 L744.3 175.0 L740.9 170.0 L737.4 165.0 L734.0 160.0 L730.6 155.0 L727.2 150.0 L723.8 145.0 L720.4 140.0 L717.1 135.0 L713.8 130.0 L710.4 125.0 L707.1 120.0 L703.8 115.0 L700.5 110.0 L697.2 105.0 L694.0 100.0 L690.7 95.0 L687.5 90.0 L684.3 85.0 L681.1 80.0 L677.9 75.0 L674.7 70.0 L671.6 65.0 L668.4 60.0 L665.3 55.0 L662.1 50.0 L659.0 45.0 L658.4 44.0 M1250.2 690.0 L1244.9 685.0 L1239.6 680.0 L1234.3 675.0 L1229.1 670.0 L1223.8 665.0 L1218.6 660.0 L1213.4 655.0 L1208.2 650.0 L1203.0 645.0 L1197.9 640.0 L1192.7 635.0 L1187.6 630.0 L1182.5 625.0 L1177.5 620.0 L1172.4 615.0 L1167.4 610.0 L1162.3 605.0 L1157.3 600.0 L1152.3 595.0 L1147.4 590.0 L1142.4 585.0 L1137.5 580.0 L1132.6 575.0 L1127.7 570.0 L1122.8 565.0 L1118.0 560.0 L1113.1 555.0 L1108.3 550.0 L1103.5 545.0 L1098.7 540.0 L1093.9 535.0 L1089.2 530.0 L1084.5 525.0 L1079.7 520.0 L1075.1 515.0 L1070.4 510.0 L1065.7 505.0 L1061.1 500.0 L1056.4 495.0 L1051.8 490.0 L1047.2 485.0 L1042.7 480.0 L1038.1 475.0 L1033.6 470.0 L1029.0 465.0 L1024.5 460.0 L1020.0 455.0 L1015.6 450.0 L1011.1 445.0 L1006.7 440.0 L1002.3 435.0 L997.8 430.0 L993.5 425.0 L989.1 420.0 L984.7 415.0 L980.4 410.0 L976.1 405.0 L971.8 400.0 L967.5 395.0 L963.2 390.0 L959.0 385.0 L954.7 380.0 L950.5 375.0 L946.3 370.0 L942.1 365.0 L937.9 360.0 L933.8 355.0 L929.6 350.0 L925.5 345.0 L921.4 340.0 L917.3 335.0 L913.2 330.0 L909.2 325.0 L905.1 320.0 L901.1 315.0 L897.1 310.0 L893.1 305.0 L889.1 300.0 L885.1 295.0 L881.2 290.0 L877.2 285.0 L873.3 280.0 L869.4 275.0 L865.5 270.0 L861.6 265.0 L857.8 260.0 L853.9 255.0 L850.1 250.0 L846.3 245.0 L842.5 240.0 L838.7 235.0 L834.9 230.0 L831.2 225.0 L827.5 220.0 L823.7 215.0 L820.0 210.0 L816.3 205.0 L812.7 200.0 L809.0 195.0 L805.4 190.0 L801.7 185.0 L798.1 180.0 L794.5 175.0 L790.9 170.0 L787.3 165.0 L783.8 160.0 L780.2 155.0 L776.7 150.0 L773.2 145.0 L769.7 140.0 L766.2 135.0 L762.7 130.0 L759.3 125.0 L755.8 120.0 L752.4 115.0 L749.0 110.0 L745.6 105.0 L742.2 100.0 L738.8 95.0 L735.4 90.0 L732.1 85.0 L728.8 80.0 L725.5 75.0 L722.2 70.0 L718.9 65.0 L715.6 60.0 L712.3 55.0 L709.1 50.0 L705.8 45.0 L705.2 44.0 M1316.2 690.0 L1310.7 685.0 L1305.2 680.0 L1299.8 675.0 L1294.3 670.0 L1288.9 665.0 L1283.5 660.0 L1278.1 655.0 L1272.8 650.0 L1267.4 645.0 L1262.1 640.0 L1256.8 635.0 L1251.5 630.0 L1246.3 625.0 L1241.0 620.0 L1235.8 615.0 L1230.6 610.0 L1225.4 605.0 L1220.2 600.0 L1215.1 595.0 L1209.9 590.0 L1204.8 585.0 L1199.7 580.0 L1194.6 575.0 L1189.6 570.0 L1184.5 565.0 L1179.5 560.0 L1174.5 555.0 L1169.5 550.0 L1164.6 545.0 L1159.6 540.0 L1154.7 535.0 L1149.8 530.0 L1144.9 525.0 L1140.0 520.0 L1135.2 515.0 L1130.3 510.0 L1125.5 505.0 L1120.7 500.0 L1115.9 495.0 L1111.1 490.0 L1106.4 485.0 L1101.7 480.0 L1096.9 475.0 L1092.2 470.0 L1087.6 465.0 L1082.9 460.0 L1078.3 455.0 L1073.6 450.0 L1069.0 445.0 L1064.4 440.0 L1059.8 435.0 L1055.3 430.0 L1050.7 425.0 L1046.2 420.0 L1041.7 415.0 L1037.2 410.0 L1032.8 405.0 L1028.3 400.0 L1023.9 395.0 L1019.4 390.0 L1015.0 385.0 L1010.6 380.0 L1006.3 375.0 L1001.9 370.0 L997.6 365.0 L993.3 360.0 L989.0 355.0 L984.7 350.0 L980.4 345.0 L976.1 340.0 L971.9 335.0 L967.7 330.0 L963.5 325.0 L959.3 320.0 L955.1 315.0 L951.0 310.0 L946.8 305.0 L942.7 300.0 L938.6 295.0 L934.5 290.0 L930.4 285.0 L926.3 280.0 L922.3 275.0 L918.3 270.0 L914.3 265.0 L910.3 260.0 L906.3 255.0 L902.3 250.0 L898.4 245.0 L894.4 240.0 L890.5 235.0 L886.6 230.0 L882.7 225.0 L878.8 220.0 L875.0 215.0 L871.1 210.0 L867.3 205.0 L863.5 200.0 L859.7 195.0 L855.9 190.0 L852.1 185.0 L848.4 180.0 L844.7 175.0 L840.9 170.0 L837.2 165.0 L833.5 160.0 L829.9 155.0 L826.2 150.0 L822.5 145.0 L818.9 140.0 L815.3 135.0 L811.7 130.0 L808.1 125.0 L804.5 120.0 L801.0 115.0 L797.4 110.0 L793.9 105.0 L790.4 100.0 L786.9 95.0 L783.4 90.0 L779.9 85.0 L776.5 80.0 L773.0 75.0 L769.6 70.0 L766.2 65.0 L762.8 60.0 L759.4 55.0 L756.0 50.0 L752.6 45.0 L752.0 44.0 M1382.2 690.0 L1376.5 685.0 L1370.8 680.0 L1365.2 675.0 L1359.6 670.0 L1354.0 665.0 L1348.4 660.0 L1342.9 655.0 L1337.3 650.0 L1331.8 645.0 L1326.3 640.0 L1320.9 635.0 L1315.4 630.0 L1310.0 625.0 L1304.6 620.0 L1299.2 615.0 L1293.8 610.0 L1288.4 605.0 L1283.1 600.0 L1277.8 595.0 L1272.5 590.0 L1267.2 585.0 L1261.9 580.0 L1256.7 575.0 L1251.5 570.0 L1246.3 565.0 L1241.1 560.0 L1235.9 555.0 L1230.8 550.0 L1225.6 545.0 L1220.5 540.0 L1215.4 535.0 L1210.4 530.0 L1205.3 525.0 L1200.3 520.0 L1195.3 515.0 L1190.3 510.0 L1185.3 505.0 L1180.3 500.0 L1175.4 495.0 L1170.4 490.0 L1165.5 485.0 L1160.6 480.0 L1155.8 475.0 L1150.9 470.0 L1146.1 465.0 L1141.3 460.0 L1136.5 455.0 L1131.7 450.0 L1126.9 445.0 L1122.2 440.0 L1117.4 435.0 L1112.7 430.0 L1108.0 425.0 L1103.4 420.0 L1098.7 415.0 L1094.1 410.0 L1089.4 405.0 L1084.8 400.0 L1080.2 395.0 L1075.7 390.0 L1071.1 385.0 L1066.6 380.0 L1062.1 375.0 L1057.6 370.0 L1053.1 365.0 L1048.6 360.0 L1044.2 355.0 L1039.7 350.0 L1035.3 345.0 L1030.9 340.0 L1026.5 335.0 L1022.1 330.0 L1017.8 325.0 L1013.5 320.0 L1009.1 315.0 L1004.8 310.0 L1000.6 305.0 L996.3 300.0 L992.0 295.0 L987.8 290.0 L983.6 285.0 L979.4 280.0 L975.2 275.0 L971.0 270.0 L966.9 265.0 L962.7 260.0 L958.6 255.0 L954.5 250.0 L950.4 245.0 L946.3 240.0 L942.3 235.0 L938.2 230.0 L934.2 225.0 L930.2 220.0 L926.2 215.0 L922.2 210.0 L918.3 205.0 L914.3 200.0 L910.4 195.0 L906.5 190.0 L902.6 185.0 L898.7 180.0 L894.8 175.0 L891.0 170.0 L887.1 165.0 L883.3 160.0 L879.5 155.0 L875.7 150.0 L871.9 145.0 L868.1 140.0 L864.4 135.0 L860.7 130.0 L856.9 125.0 L853.2 120.0 L849.6 115.0 L845.9 110.0 L842.2 105.0 L838.6 100.0 L834.9 95.0 L831.3 90.0 L827.7 85.0 L824.1 80.0 L820.6 75.0 L817.0 70.0 L813.5 65.0 L809.9 60.0 L806.4 55.0 L802.9 50.0 L799.5 45.0 L798.8 44.0 M1448.1 690.0 L1442.3 685.0 L1436.5 680.0 L1430.7 675.0 L1424.9 670.0 L1419.1 665.0 L1413.4 660.0 L1407.6 655.0 L1401.9 650.0 L1396.2 645.0 L1390.6 640.0 L1384.9 635.0 L1379.3 630.0 L1373.7 625.0 L1368.1 620.0 L1362.5 615.0 L1357.0 610.0 L1351.5 605.0 L1346.0 600.0 L1340.5 595.0 L1335.0 590.0 L1329.6 585.0 L1324.1 580.0 L1318.7 575.0 L1313.3 570.0 L1308.0 565.0 L1302.6 560.0 L1297.3 555.0 L1292.0 550.0 L1286.7 545.0 L1281.4 540.0 L1276.2 535.0 L1270.9 530.0 L1265.7 525.0 L1260.5 520.0 L1255.4 515.0 L1250.2 510.0 L1245.1 505.0 L1239.9 500.0 L1234.8 495.0 L1229.7 490.0 L1224.7 485.0 L1219.6 480.0 L1214.6 475.0 L1209.6 470.0 L1204.6 465.0 L1199.6 460.0 L1194.7 455.0 L1189.7 450.0 L1184.8 445.0 L1179.9 440.0 L1175.0 435.0 L1170.2 430.0 L1165.3 425.0 L1160.5 420.0 L1155.7 415.0 L1150.9 410.0 L1146.1 405.0 L1141.4 400.0 L1136.6 395.0 L1131.9 390.0 L1127.2 385.0 L1122.5 380.0 L1117.9 375.0 L1113.2 370.0 L1108.6 365.0 L1104.0 360.0 L1099.4 355.0 L1094.8 350.0 L1090.2 345.0 L1085.7 340.0 L1081.1 335.0 L1076.6 330.0 L1072.1 325.0 L1067.6 320.0 L1063.2 315.0 L1058.7 310.0 L1054.3 305.0 L1049.9 300.0 L1045.5 295.0 L1041.1 290.0 L1036.8 285.0 L1032.4 280.0 L1028.1 275.0 L1023.8 270.0 L1019.5 265.0 L1015.2 260.0 L1010.9 255.0 L1006.7 250.0 L1002.5 245.0 L998.3 240.0 L994.1 235.0 L989.9 230.0 L985.7 225.0 L981.6 220.0 L977.4 215.0 L973.3 210.0 L969.2 205.0 L965.1 200.0 L961.1 195.0 L957.0 190.0 L953.0 185.0 L949.0 180.0 L945.0 175.0 L941.0 170.0 L937.0 165.0 L933.0 160.0 L929.1 155.0 L925.2 150.0 L921.3 145.0 L917.4 140.0 L913.5 135.0 L909.6 130.0 L905.8 125.0 L902.0 120.0 L898.1 115.0 L894.3 110.0 L890.5 105.0 L886.8 100.0 L883.0 95.0 L879.3 90.0 L875.5 85.0 L871.8 80.0 L868.1 75.0 L864.4 70.0 L860.8 65.0 L857.1 60.0 L853.5 55.0 L849.9 50.0 L846.3 45.0 L845.5 44.0" stroke="#f08228" stroke-width="1"/>
<path d="M96.4 691.1 L94.6 686.8 L92.8 682.4 L90.9 678.0 L89.1 673.6 L87.3 669.1 L85.4 664.6 L83.5 660.1 L81.6 655.5 L79.7 650.9 L77.8 646.2 L75.9 641.5 L73.9 636.8 L72.0 632.0 L70.0 627.2 L68.1 622.3 L66.1 617.4 L64.1 612.5 L62.1 607.5 L60.0 602.4 L58.0 597.3 L56.0 592.2 L53.9 587.0 L51.8 581.7 L49.7 576.4 L47.6 571.1 L45.5 565.7 L43.4 560.2 L41.3 554.7 L39.1 549.1 L37.0 543.5 L34.8 537.8 L32.6 532.1 L30.4 526.3 L28.2 520.4 L26.0 514.4 L23.8 508.4 L21.5 502.4 L19.3 496.2 L17.0 490.0 L14.7 483.7 L12.4 477.3 L10.1 470.9 L7.8 464.4 L5.4 457.8 L3.1 451.1 L0.7 444.3 L-1.7 437.5 L-4.0 430.6 L-6.5 423.5 L-8.9 416.4 L-11.3 409.2 L-13.7 401.9 L-16.2 394.5 L-18.7 386.9 L-21.2 379.3 L-23.7 371.6 L-26.2 363.7 L-28.7 355.8 L-31.3 347.7 L-33.8 339.5 L-36.4 331.1 L-39.0 322.7 L-41.6 314.1 L-44.2 305.3 L-46.9 296.4 L-49.5 287.4 L-52.2 278.2 L-54.9 268.8 L-57.6 259.3 L-60.3 249.6 L-63.0 239.8 L-65.8 229.7 L-68.5 219.5 L-71.3 209.0 L-74.1 198.4 L-76.9 187.5 L-79.7 176.4 L-82.6 165.1 L-85.5 153.6 L-88.3 141.7 L-91.2 129.7 L-94.1 117.3 L-97.1 104.6 L-100.0 91.7 L-103.0 78.4 L-106.0 64.8 L-109.0 50.8 L-112.0 36.5 L-112.4 34.7 M129.4 691.1 L127.6 686.8 L125.8 682.4 L123.9 678.0 L122.1 673.6 L120.2 669.1 L118.4 664.6 L116.5 660.1 L114.6 655.5 L112.6 650.9 L110.7 646.2 L108.8 641.5 L106.8 636.8 L104.8 632.0 L102.8 627.2 L100.8 622.3 L98.8 617.4 L96.8 612.5 L94.7 607.5 L92.6 602.4 L90.6 597.3 L88.5 592.2 L86.4 587.0 L84.2 581.7 L82.1 576.4 L80.0 571.1 L77.8 565.7 L75.6 560.2 L73.4 554.7 L71.2 549.1 L69.0 543.5 L66.7 537.8 L64.5 532.1 L62.2 526.3 L59.9 520.4 L57.6 514.4 L55.3 508.4 L53.0 502.4 L50.7 496.2 L48.3 490.0 L45.9 483.7 L43.6 477.3 L41.2 470.9 L38.7 464.4 L36.3 457.8 L33.9 451.1 L31.4 444.3 L28.9 437.5 L26.4 430.6 L23.9 423.5 L21.4 416.4 L18.9 409.2 L16.3 401.9 L13.7 394.5 L11.2 386.9 L8.6 379.3 L5.9 371.6 L3.3 363.7 L0.7 355.8 L-2.0 347.7 L-4.7 339.5 L-7.4 331.1 L-10.1 322.7 L-12.8 314.1 L-15.6 305.3 L-18.4 296.4 L-21.1 287.4 L-23.9 278.2 L-26.8 268.8 L-29.6 259.3 L-32.5 249.6 L-35.3 239.8 L-38.2 229.7 L-41.1 219.5 L-44.1 209.0 L-47.0 198.4 L-50.0 187.5 L-53.0 176.4 L-56.0 165.1 L-59.0 153.6 L-62.1 141.7 L-65.1 129.7 L-68.2 117.3 L-71.3 104.6 L-74.4 91.7 L-77.6 78.4 L-80.8 64.8 L-83.9 50.8 L-87.1 36.5 L-87.5 34.7 M162.4 691.1 L160.6 686.8 L158.8 682.4 L157.0 678.0 L155.2 673.6 L153.4 669.1 L151.5 664.6 L149.6 660.1 L147.7 655.5 L145.8 650.9 L143.9 646.2 L141.9 641.5 L140.0 636.8 L138.0 632.0 L136.0 627.2 L134.0 622.3 L132.0 617.4 L129.9 612.5 L127.8 607.5 L125.8 602.4 L123.7 597.3 L121.5 592.2 L119.4 587.0 L117.3 581.7 L115.1 576.4 L112.9 571.1 L110.7 565.7 L108.5 560.2 L106.2 554.7 L104.0 549.1 L101.7 543.5 L99.4 537.8 L97.1 532.1 L94.8 526.3 L92.4 520.4 L90.1 514.4 L87.7 508.4 L85.3 502.4 L82.9 496.2 L80.5 490.0 L78.0 483.7 L75.6 477.3 L73.1 470.9 L70.6 464.4 L68.1 457.8 L65.5 451.1 L63.0 444.3 L60.4 437.5 L57.8 430.6 L55.2 423.5 L52.6 416.4 L49.9 409.2 L47.3 401.9 L44.6 394.5 L41.9 386.9 L39.2 379.3 L36.5 371.6 L33.7 363.7 L31.0 355.8 L28.2 347.7 L25.4 339.5 L22.5 331.1 L19.7 322.7 L16.8 314.1 L14.0 305.3 L11.1 296.4 L8.1 287.4 L5.2 278.2 L2.2 268.8 L-0.8 259.3 L-3.8 249.6 L-6.8 239.8 L-9.8 229.7 L-12.9 219.5 L-16.0 209.0 L-19.1 198.4 L-22.2 187.5 L-25.4 176.4 L-28.5 165.1 L-31.7 153.6 L-34.9 141.7 L-38.2 129.7 L-41.4 117.3 L-44.7 104.6 L-48.0 91.7 L-51.4 78.4 L-54.7 64.8 L-58.1 50.8 L-61.5 36.5 L-61.9 34.7 M195.4 691.1 L193.7 686.8 L192.0 682.4 L190.2 678.0 L188.4 673.6 L186.6 669.1 L184.8 664.6 L183.0 660.1 L181.2 655.5 L179.3 650.9 L177.4 646.2 L175.5 641.5 L173.6 636.8 L171.6 632.0 L169.7 627.2 L167.7 622.3 L165.7 617.4 L163.6 612.5 L161.6 607.5 L159.5 602.4 L157.4 597.3 L155.3 592.2 L153.2 587.0 L151.0 581.7 L148.8 576.4 L146.7 571.1 L144.4 565.7 L142.2 560.2 L139.9 554.7 L137.7 549.1 L135.4 543.5 L133.0 537.8 L130.7 532.1 L128.3 526.3 L126.0 520.4 L123.6 514.4 L121.1 508.4 L118.7 502.4 L116.2 496.2 L113.7 490.0 L111.2 483.7 L108.7 477.3 L106.2 470.9 L103.6 464.4 L101.0 457.8 L98.4 451.1 L95.8 444.3 L93.1 437.5 L90.4 430.6 L87.7 423.5 L85.0 416.4 L82.3 409.2 L79.5 401.9 L76.8 394.5 L74.0 386.9 L71.1 379.3 L68.3 371.6 L65.4 363.7 L62.6 355.8 L59.6 347.7 L56.7 339.5 L53.8 331.1 L50.8 322.7 L47.8 314.1 L44.8 305.3 L41.8 296.4 L38.7 287.4 L35.6 278.2 L32.5 268.8 L29.4 259.3 L26.2 249.6 L23.1 239.8 L19.9 229.7 L16.6 219.5 L13.4 209.0 L10.1 198.4 L6.8 187.5 L3.5 176.4 L0.2 165.1 L-3.2 153.6 L-6.6 141.7 L-10.0 129.7 L-13.4 117.3 L-16.9 104.6 L-20.4 91.7 L-23.9 78.4 L-27.5 64.8 L-31.1 50.8 L-34.7 36.5 L-35.1 34.7 M228.4 691.1 L226.8 686.8 L225.2 682.4 L223.5 678.0 L221.8 673.6 L220.1 669.1 L218.4 664.6 L216.7 660.1 L214.9 655.5 L213.1 650.9 L211.3 646.2 L209.5 641.5 L207.7 636.8 L205.8 632.0 L203.9 627.2 L202.0 622.3 L200.0 617.4 L198.1 612.5 L196.1 607.5 L194.0 602.4 L192.0 597.3 L189.9 592.2 L187.9 587.0 L185.7 581.7 L183.6 576.4 L181.4 571.1 L179.2 565.7 L177.0 560.2 L174.8 554.7 L172.5 549.1 L170.2 543.5 L167.9 537.8 L165.6 532.1 L163.2 526.3 L160.8 520.4 L158.4 514.4 L156.0 508.4 L153.5 502.4 L151.0 496.2 L148.5 490.0 L146.0 483.7 L143.4 477.3 L140.8 470.9 L138.2 464.4 L135.6 457.8 L132.9 451.1 L130.2 444.3 L127.5 437.5 L124.7 430.6 L122.0 423.5 L119.2 416.4 L116.4 409.2 L113.5 401.9 L110.7 394.5 L107.8 386.9 L104.9 379.3 L101.9 371.6 L98.9 363.7 L96.0 355.8 L92.9 347.7 L89.9 339.5 L86.8 331.1 L83.7 322.7 L80.6 314.1 L77.5 305.3 L74.3 296.4 L71.1 287.4 L67.9 278.2 L64.6 268.8 L61.4 259.3 L58.0 249.6 L54.7 239.8 L51.4 229.7 L48.0 219.5 L44.6 209.0 L41.1 198.4 L37.7 187.5 L34.2 176.4 L30.7 165.1 L27.1 153.6 L23.5 141.7 L19.9 129.7 L16.3 117.3 L12.6 104.6 L8.9 91.7 L5.2 78.4 L1.4 64.8 L-2.4 50.8 L-6.2 36.5 L-6.7 34.7 M261.4 691.1 L259.9 686.8 L258.4 682.4 L256.9 678.0 L255.4 673.6 L253.8 669.1 L252.3 664.6 L250.6 660.1 L249.0 655.5 L247.4 650.9 L245.7 646.2 L244.0 641.5 L242.3 636.8 L240.5 632.0 L238.7 627.2 L236.9 622.3 L235.1 617.4 L233.2 612.5 L231.4 607.5 L229.4 602.4 L227.5 597.3 L225.5 592.2 L223.5 587.0 L221.5 581.7 L219.5 576.4 L217.4 571.1 L215.3 565.7 L213.2 560.2 L211.0 554.7 L208.8 549.1 L206.6 543.5 L204.3 537.8 L202.0 532.1 L199.7 526.3 L197.4 520.4 L195.0 514.4 L192.6 508.4 L190.1 502.4 L187.7 496.2 L185.2 490.0 L182.6 483.7 L180.1 477.3 L177.5 470.9 L174.9 464.4 L172.2 457.8 L169.5 451.1 L166.8 444.3 L164.0 437.5 L161.3 430.6 L158.5 423.5 L155.6 416.4 L152.7 409.2 L149.8 401.9 L146.9 394.5 L143.9 386.9 L141.0 379.3 L137.9 371.6 L134.9 363.7 L131.8 355.8 L128.7 347.7 L125.5 339.5 L122.3 331.1 L119.1 322.7 L115.9 314.1 L112.6 305.3 L109.3 296.4 L106.0 287.4 L102.6 278.2 L99.2 268.8 L95.8 259.3 L92.4 249.6 L88.9 239.8 L85.4 229.7 L81.8 219.5 L78.2 209.0 L74.6 198.4 L71.0 187.5 L67.3 176.4 L63.6 165.1 L59.9 153.6 L56.1 141.7 L52.3 129.7 L48.4 117.3 L44.6 104.6 L40.6 91.7 L36.7 78.4 L32.7 64.8 L28.7 50.8 L24.6 36.5 L24.1 34.7 M294.4 691.1 L293.1 686.8 L291.8 682.4 L290.4 678.0 L289.1 673.6 L287.7 669.1 L286.3 664.6 L284.9 660.1 L283.4 655.5 L281.9 650.9 L280.4 646.2 L278.9 641.5 L277.3 636.8 L275.8 632.0 L274.2 627.2 L272.5 622.3 L270.9 617.4 L269.2 612.5 L267.5 607.5 L265.7 602.4 L263.9 597.3 L262.1 592.2 L260.3 587.0 L258.4 581.7 L256.5 576.4 L254.6 571.1 L252.6 565.7 L250.6 560.2 L248.6 554.7 L246.5 549.1 L244.4 543.5 L242.3 537.8 L240.1 532.1 L237.9 526.3 L235.7 520.4 L233.4 514.4 L231.1 508.4 L228.8 502.4 L226.4 496.2 L224.0 490.0 L221.5 483.7 L219.0 477.3 L216.5 470.9 L213.9 464.4 L211.3 457.8 L208.7 451.1 L206.0 444.3 L203.3 437.5 L200.5 430.6 L197.7 423.5 L194.9 416.4 L192.0 409.2 L189.1 401.9 L186.1 394.5 L183.1 386.9 L180.1 379.3 L177.0 371.6 L173.9 363.7 L170.8 355.8 L167.6 347.7 L164.4 339.5 L161.1 331.1 L157.8 322.7 L154.5 314.1 L151.1 305.3 L147.7 296.4 L144.3 287.4 L140.8 278.2 L137.2 268.8 L133.7 259.3 L130.1 249.6 L126.4 239.8 L122.8 229.7 L119.1 219.5 L115.3 209.0 L111.5 198.4 L107.7 187.5 L103.8 176.4 L99.9 165.1 L96.0 153.6 L92.0 141.7 L88.0 129.7 L83.9 117.3 L79.8 104.6 L75.7 91.7 L71.5 78.4 L67.2 64.8 L63.0 50.8 L58.7 36.5 L58.1 34.7 M327.4 691.1 L326.3 686.8 L325.2 682.4 L324.0 678.0 L322.9 673.6 L321.7 669.1 L320.5 664.6 L319.3 660.1 L318.0 655.5 L316.8 650.9 L315.5 646.2 L314.2 641.5 L312.8 636.8 L311.4 632.0 L310.1 627.2 L308.6 622.3 L307.2 617.4 L305.7 612.5 L304.2 607.5 L302.7 602.4 L301.1 597.3 L299.5 592.2 L297.9 587.0 L296.3 581.7 L294.6 576.4 L292.9 571.1 L291.1 565.7 L289.4 560.2 L287.5 554.7 L285.7 549.1 L283.8 543.5 L281.9 537.8 L279.9 532.1 L277.9 526.3 L275.9 520.4 L273.8 514.4 L271.7 508.4 L269.5 502.4 L267.3 496.2 L265.0 490.0 L262.8 483.7 L260.4 477.3 L258.0 470.9 L255.6 464.4 L253.2 457.8 L250.6 451.1 L248.1 444.3 L245.5 437.5 L242.8 430.6 L240.1 423.5 L237.4 416.4 L234.6 409.2 L231.8 401.9 L228.9 394.5 L225.9 386.9 L222.9 379.3 L219.9 371.6 L216.8 363.7 L213.7 355.8 L210.5 347.7 L207.3 339.5 L204.0 331.1 L200.7 322.7 L197.3 314.1 L193.8 305.3 L190.4 296.4 L186.8 287.4 L183.3 278.2 L179.6 268.8 L176.0 259.3 L172.2 249.6 L168.5 239.8 L164.7 229.7 L160.8 219.5 L156.9 209.0 L152.9 198.4 L148.9 187.5 L144.9 176.4 L140.8 165.1 L136.6 153.6 L132.4 141.7 L128.2 129.7 L123.9 117.3 L119.5 104.6 L115.1 91.7 L110.7 78.4 L106.2 64.8 L101.7 50.8 L97.1 36.5 L96.5 34.7 M360.4 691.1 L359.5 686.8 L358.6 682.4 L357.7 678.0 L356.7 673.6 L355.8 669.1 L354.8 664.6 L353.8 660.1 L352.8 655.5 L351.7 650.9 L350.7 646.2 L349.6 641.5 L348.5 636.8 L347.4 632.0 L346.2 627.2 L345.1 622.3 L343.9 617.4 L342.7 612.5 L341.4 607.5 L340.1 602.4 L338.8 597.3 L337.5 592.2 L336.2 587.0 L334.8 581.7 L333.4 576.4 L331.9 571.1 L330.5 565.7 L329.0 560.2 L327.4 554.7 L325.9 549.1 L324.2 543.5 L322.6 537.8 L320.9 532.1 L319.2 526.3 L317.4 520.4 L315.7 514.4 L313.8 508.4 L311.9 502.4 L310.0 496.2 L308.0 490.0 L306.0 483.7 L304.0 477.3 L301.9 470.9 L299.7 464.4 L297.5 457.8 L295.2 451.1 L292.9 444.3 L290.6 437.5 L288.2 430.6 L285.7 423.5 L283.2 416.4 L280.6 409.2 L278.0 401.9 L275.3 394.5 L272.5 386.9 L269.7 379.3 L266.8 371.6 L263.9 363.7 L260.9 355.8 L257.8 347.7 L254.7 339.5 L251.5 331.1 L248.3 322.7 L245.0 314.1 L241.6 305.3 L238.1 296.4 L234.6 287.4 L231.1 278.2 L227.4 268.8 L223.7 259.3 L220.0 249.6 L216.1 239.8 L212.2 229.7 L208.3 219.5 L204.3 209.0 L200.2 198.4 L196.0 187.5 L191.8 176.4 L187.5 165.1 L183.2 153.6 L178.8 141.7 L174.4 129.7 L169.8 117.3 L165.3 104.6 L160.6 91.7 L155.9 78.4 L151.1 64.8 L146.3 50.8 L141.4 36.5 L140.8 34.7 M393.4 691.1 L392.7 686.8 L392.0 682.4 L391.3 678.0 L390.6 673.6 L389.8 669.1 L389.1 664.6 L388.3 660.1 L387.5 655.5 L386.7 650.9 L385.9 646.2 L385.1 641.5 L384.2 636.8 L383.3 632.0 L382.5 627.2 L381.5 622.3 L380.6 617.4 L379.7 612.5 L378.7 607.5 L377.7 602.4 L376.7 597.3 L375.7 592.2 L374.6 587.0 L373.5 581.7 L372.4 576.4 L371.3 571.1 L370.1 565.7 L368.9 560.2 L367.7 554.7 L366.5 549.1 L365.2 543.5 L363.9 537.8 L362.6 532.1 L361.2 526.3 L359.8 520.4 L358.3 514.4 L356.9 508.4 L355.3 502.4 L353.8 496.2 L352.2 490.0 L350.5 483.7 L348.8 477.3 L347.1 470.9 L345.3 464.4 L343.5 457.8 L341.6 451.1 L339.7 444.3 L337.7 437.5 L335.7 430.6 L333.6 423.5 L331.5 416.4 L329.3 409.2 L327.0 401.9 L324.7 394.5 L322.3 386.9 L319.8 379.3 L317.3 371.6 L314.7 363.7 L312.0 355.8 L309.3 347.7 L306.5 339.5 L303.6 331.1 L300.6 322.7 L297.6 314.1 L294.4 305.3 L291.2 296.4 L287.9 287.4 L284.5 278.2 L281.1 268.8 L277.5 259.3 L273.9 249.6 L270.2 239.8 L266.4 229.7 L262.5 219.5 L258.5 209.0 L254.4 198.4 L250.3 187.5 L246.0 176.4 L241.7 165.1 L237.3 153.6 L232.7 141.7 L228.1 129.7 L223.5 117.3 L218.7 104.6 L213.8 91.7 L208.9 78.4 L203.9 64.8 L198.8 50.8 L193.6 36.5 L192.9 34.7 M426.4 691.1 L425.9 686.8 L425.4 682.4 L424.9 678.0 L424.4 673.6 L423.8 669.1 L423.3 664.6 L422.7 660.1 L422.2 655.5 L421.6 650.9 L421.0 646.2 L420.4 641.5 L419.8 636.8 L419.1 632.0 L418.5 627.2 L417.8 622.3 L417.2 617.4 L416.5 612.5 L415.8 607.5 L415.1 602.4 L414.3 597.3 L413.6 592.2 L412.8 587.0 L412.0 581.7 L411.2 576.4 L410.4 571.1 L409.6 565.7 L408.7 560.2 L407.8 554.7 L406.9 549.1 L406.0 543.5 L405.0 537.8 L404.0 532.1 L403.0 526.3 L402.0 520.4 L400.9 514.4 L399.8 508.4 L398.7 502.4 L397.6 496.2 L396.4 490.0 L395.2 483.7 L393.9 477.3 L392.6 470.9 L391.3 464.4 L389.9 457.8 L388.5 451.1 L387.0 444.3 L385.5 437.5 L384.0 430.6 L382.4 423.5 L380.7 416.4 L379.0 409.2 L377.3 401.9 L375.5 394.5 L373.6 386.9 L371.7 379.3 L369.7 371.6 L367.6 363.7 L365.5 355.8 L363.3 347.7 L361.0 339.5 L358.6 331.1 L356.2 322.7 L353.7 314.1 L351.0 305.3 L348.3 296.4 L345.5 287.4 L342.7 278.2 L339.7 268.8 L336.6 259.3 L333.4 249.6 L330.1 239.8 L326.7 229.7 L323.1 219.5 L319.5 209.0 L315.7 198.4 L311.9 187.5 L307.9 176.4 L303.7 165.1 L299.5 153.6 L295.1 141.7 L290.6 129.7 L286.0 117.3 L281.3 104.6 L276.4 91.7 L271.4 78.4 L266.3 64.8 L261.0 50.8 L255.6 36.5 L254.9 34.7 M459.4 691.1 L459.1 686.8 L458.7 682.4 L458.4 678.0 L458.1 673.6 L457.7 669.1 L457.4 664.6 L457.0 660.1 L456.6 655.5 L456.2 650.9 L455.9 646.2 L455.5 641.5 L455.1 636.8 L454.7 632.0 L454.2 627.2 L453.8 622.3 L453.4 617.4 L452.9 612.5 L452.5 607.5 L452.0 602.4 L451.5 597.3 L451.0 592.2 L450.5 587.0 L450.0 581.7 L449.5 576.4 L448.9 571.1 L448.4 565.7 L447.8 560.2 L447.2 554.7 L446.6 549.1 L446.0 543.5 L445.4 537.8 L444.8 532.1 L444.1 526.3 L443.4 520.4 L442.7 514.4 L442.0 508.4 L441.2 502.4 L440.5 496.2 L439.7 490.0 L438.9 483.7 L438.0 477.3 L437.2 470.9 L436.3 464.4 L435.4 457.8 L434.4 451.1 L433.4 444.3 L432.4 437.5 L431.4 430.6 L430.3 423.5 L429.2 416.4 L428.0 409.2 L426.8 401.9 L425.6 394.5 L424.3 386.9 L423.0 379.3 L421.6 371.6 L420.2 363.7 L418.7 355.8 L417.1 347.7 L415.5 339.5 L413.9 331.1 L412.1 322.7 L410.3 314.1 L408.4 305.3 L406.5 296.4 L404.4 287.4 L402.3 278.2 L400.1 268.8 L397.8 259.3 L395.3 249.6 L392.8 239.8 L390.2 229.7 L387.4 219.5 L384.6 209.0 L381.6 198.4 L378.4 187.5 L375.2 176.4 L371.8 165.1 L368.2 153.6 L364.5 141.7 L360.6 129.7 L356.5 117.3 L352.3 104.6 L347.9 91.7 L343.3 78.4 L338.6 64.8 L333.6 50.8 L328.5 36.5 L327.8 34.7 M492.4 691.1 L492.2 686.8 L492.0 682.4 L491.9 678.0 L491.7 673.6 L491.5 669.1 L491.3 664.6 L491.1 660.1 L490.9 655.5 L490.7 650.9 L490.5 646.2 L490.2 641.5 L490.0 636.8 L489.8 632.0 L489.6 627.2 L489.3 622.3 L489.1 617.4 L488.8 612.5 L488.6 607.5 L488.3 602.4 L488.1 597.3 L487.8 592.2 L487.5 587.0 L487.2 581.7 L486.9 576.4 L486.6 571.1 L486.3 565.7 L486.0 560.2 L485.7 554.7 L485.4 549.1 L485.0 543.5 L484.7 537.8 L484.3 532.1 L483.9 526.3 L483.6 520.4 L483.2 514.4 L482.8 508.4 L482.4 502.4 L481.9 496.2 L481.5 490.0 L481.0 483.7 L480.6 477.3 L480.1 470.9 L479.6 464.4 L479.0 457.8 L478.5 451.1 L478.0 444.3 L477.4 437.5 L476.8 430.6 L476.2 423.5 L475.5 416.4 L474.9 409.2 L474.2 401.9 L473.5 394.5 L472.7 386.9 L471.9 379.3 L471.1 371.6 L470.3 363.7 L469.4 355.8 L468.5 347.7 L467.6 339.5 L466.6 331.1 L465.5 322.7 L464.5 314.1 L463.3 305.3 L462.2 296.4 L460.9 287.4 L459.6 278.2 L458.3 268.8 L456.8 259.3 L455.3 249.6 L453.8 239.8 L452.1 229.7 L450.4 219.5 L448.5 209.0 L446.6 198.4 L444.6 187.5 L442.4 176.4 L440.1 165.1 L437.7 153.6 L435.2 141.7 L432.5 129.7 L429.6 117.3 L426.6 104.6 L423.4 91.7 L420.0 78.4 L416.4 64.8 L412.6 50.8 L408.5 36.5 L408.0 34.7 M525.4 691.1 L525.3 686.8 L525.3 682.4 L525.2 678.0 L525.2 673.6 L525.1 669.1 L525.0 664.6 L525.0 660.1 L524.9 655.5 L524.8 650.9 L524.7 646.2 L524.7 641.5 L524.6 636.8 L524.5 632.0 L524.4 627.2 L524.4 622.3 L524.3 617.4 L524.2 612.5 L524.1 607.5 L524.0 602.4 L523.9 597.3 L523.8 592.2 L523.7 587.0 L523.6 581.7 L523.5 576.4 L523.4 571.1 L523.3 565.7 L523.2 560.2 L523.1 554.7 L523.0 549.1 L522.9 543.5 L522.7 537.8 L522.6 532.1 L522.5 526.3 L522.3 520.4 L522.2 514.4 L522.0 508.4 L521.9 502.4 L521.7 496.2 L521.6 490.0 L521.4 483.7 L521.2 477.3 L521.0 470.9 L520.8 464.4 L520.6 457.8 L520.4 451.1 L520.2 444.3 L520.0 437.5 L519.7 430.6 L519.5 423.5 L519.2 416.4 L518.9 409.2 L518.7 401.9 L518.4 394.5 L518.1 386.9 L517.7 379.3 L517.4 371.6 L517.0 363.7 L516.7 355.8 L516.3 347.7 L515.9 339.5 L515.4 331.1 L515.0 322.7 L514.5 314.1 L514.0 305.3 L513.5 296.4 L512.9 287.4 L512.3 278.2 L511.7 268.8 L511.0 259.3 L510.3 249.6 L509.6 239.8 L508.8 229.7 L508.0 219.5 L507.1 209.0 L506.1 198.4 L505.1 187.5 L504.1 176.4 L502.9 165.1 L501.7 153.6 L500.4 141.7 L499.0 129.7 L497.6 117.3 L496.0 104.6 L494.2 91.7 L492.4 78.4 L490.4 64.8 L488.3 50.8 L486.0 36.5 L485.7 34.7 M558.4 691.1 L558.4 686.8 L558.5 682.4 L558.5 678.0 L558.5 673.6 L558.6 669.1 L558.6 664.6 L558.6 660.1 L558.7 655.5 L558.7 650.9 L558.7 646.2 L558.8 641.5 L558.8 636.8 L558.9 632.0 L558.9 627.2 L558.9 622.3 L559.0 617.4 L559.0 612.5 L559.1 607.5 L559.1 602.4 L559.2 597.3 L559.2 592.2 L559.2 587.0 L559.3 581.7 L559.3 576.4 L559.4 571.1 L559.4 565.7 L559.5 560.2 L559.5 554.7 L559.5 549.1 L559.6 543.5 L559.6 537.8 L559.7 532.1 L559.7 526.3 L559.8 520.4 L559.8 514.4 L559.8 508.4 L559.9 502.4 L559.9 496.2 L560.0 490.0 L560.0 483.7 L560.0 477.3 L560.1 470.9 L560.1 464.4 L560.1 457.8 L560.2 451.1 L560.2 444.3 L560.2 437.5 L560.3 430.6 L560.3 423.5 L560.3 416.4 L560.3 409.2 L560.3 401.9 L560.4 394.5 L560.4 386.9 L560.4 379.3 L560.4 371.6 L560.4 363.7 L560.4 355.8 L560.4 347.7 L560.3 339.5 L560.3 331.1 L560.3 322.7 L560.3 314.1 L560.2 305.3 L560.1 296.4 L560.1 287.4 L560.0 278.2 L559.9 268.8 L559.8 259.3 L559.7 249.6 L559.6 239.8 L559.4 229.7 L559.3 219.5 L559.1 209.0 L558.9 198.4 L558.7 187.5 L558.4 176.4 L558.1 165.1 L557.8 153.6 L557.5 141.7 L557.1 129.7 L556.7 117.3 L556.2 104.6 L555.7 91.7 L555.1 78.4 L554.4 64.8 L553.7 50.8 L552.9 36.5 L552.8 34.7" stroke="#00dc00" stroke-width="1" stroke-dasharray="3.6 1.5"/>
<path d="M214.2 691.6 L215.5 686.2 L216.8 680.7 L218.1 675.2 L219.4 669.6 L220.8 664.0 L222.1 658.3 L223.5 652.5 L224.9 646.7 L226.3 640.8 L227.7 634.9 L229.1 628.9 L230.6 622.8 L232.1 616.6 L233.5 610.4 L235.1 604.1 L236.6 597.7 L238.1 591.3 L239.7 584.7 L241.3 578.1 L242.9 571.4 L244.5 564.7 L246.2 557.8 L247.8 550.8 L249.5 543.8 L251.2 536.7 L253.0 529.4 L254.8 522.1 L256.6 514.7 L258.4 507.1 L260.2 499.5 L262.1 491.7 L264.0 483.9 L266.0 475.9 L267.9 467.8 L269.9 459.5 L272.0 451.2 L274.0 442.7 L276.1 434.1 L278.3 425.3 L280.4 416.4 M270.6 691.6 L271.9 686.2 L273.1 680.7 L274.3 675.2 L275.6 669.6 L276.9 664.0 L278.2 658.3 L279.5 652.5 L280.8 646.7 L282.1 640.8 L283.5 634.9 L284.9 628.9 L286.2 622.8 L287.6 616.6 L289.1 610.4 L290.5 604.1 L292.0 597.7 L293.4 591.3 L294.9 584.7 L296.4 578.1 L298.0 571.4 L299.5 564.7 L301.1 557.8 L302.7 550.8 L304.3 543.8 L306.0 536.7 L307.6 529.4 L309.3 522.1 L311.0 514.7 L312.8 507.1 L314.5 499.5 L316.3 491.7 L318.2 483.9 L320.0 475.9 L321.9 467.8 L323.8 459.5 L325.8 451.2 L327.7 442.7 L329.8 434.1 L331.8 425.3 L333.9 416.4 M305.6 691.6 L306.8 686.2 L308.0 680.7 L309.2 675.2 L310.4 669.6 L311.6 664.0 L312.9 658.3 L314.2 652.5 L315.4 646.7 L316.7 640.8 L318.0 634.9 L319.4 628.9 L320.7 622.8 L322.1 616.6 L323.4 610.4 L324.8 604.1 L326.3 597.7 L327.7 591.3 L329.1 584.7 L330.6 578.1 L332.1 571.4 L333.6 564.7 L335.1 557.8 L336.7 550.8 L338.2 543.8 L339.8 536.7 L341.5 529.4 L343.1 522.1 L344.8 514.7 L346.5 507.1 L348.2 499.5 L349.9 491.7 L351.7 483.9 L353.5 475.9 L355.3 467.8 L357.2 459.5 L359.1 451.2 L361.0 442.7 L362.9 434.1 L364.9 425.3 L367.0 416.4 M331.3 691.6 L332.5 686.2 L333.7 680.7 L334.8 675.2 L336.0 669.6 L337.2 664.0 L338.5 658.3 L339.7 652.5 L340.9 646.7 L342.2 640.8 L343.5 634.9 L344.8 628.9 L346.1 622.8 L347.4 616.6 L348.8 610.4 L350.1 604.1 L351.5 597.7 L352.9 591.3 L354.3 584.7 L355.7 578.1 L357.2 571.4 L358.7 564.7 L360.2 557.8 L361.7 550.8 L363.2 543.8 L364.8 536.7 L366.3 529.4 L367.9 522.1 L369.6 514.7 L371.2 507.1 L372.9 499.5 L374.6 491.7 L376.3 483.9 L378.1 475.9 L379.9 467.8 L381.7 459.5 L383.6 451.2 L385.4 442.7 L387.3 434.1 L389.3 425.3 L391.3 416.4 M369.0 691.6 L370.1 686.2 L371.2 680.7 L372.3 675.2 L373.5 669.6 L374.6 664.0 L375.8 658.3 L377.0 652.5 L378.2 646.7 L379.4 640.8 L380.7 634.9 L381.9 628.9 L383.2 622.8 L384.4 616.6 L385.7 610.4 L387.1 604.1 L388.4 597.7 L389.7 591.3 L391.1 584.7 L392.5 578.1 L393.9 571.4 L395.3 564.7 L396.7 557.8 L398.2 550.8 L399.7 543.8 L401.2 536.7 L402.7 529.4 L404.3 522.1 L405.8 514.7 L407.4 507.1 L409.0 499.5 L410.7 491.7 L412.4 483.9 L414.1 475.9 L415.8 467.8 L417.5 459.5 L419.3 451.2 L421.1 442.7 L423.0 434.1 L424.9 425.3 L426.8 416.4 M396.7 691.6 L397.7 686.2 L398.8 680.7 L399.9 675.2 L401.0 669.6 L402.2 664.0 L403.3 658.3 L404.5 652.5 L405.6 646.7 L406.8 640.8 L408.0 634.9 L409.2 628.9 L410.5 622.8 L411.7 616.6 L413.0 610.4 L414.2 604.1 L415.5 597.7 L416.8 591.3 L418.2 584.7 L419.5 578.1 L420.9 571.4 L422.2 564.7 L423.6 557.8 L425.1 550.8 L426.5 543.8 L428.0 536.7 L429.4 529.4 L431.0 522.1 L432.5 514.7 L434.0 507.1 L435.6 499.5 L437.2 491.7 L438.8 483.9 L440.5 475.9 L442.2 467.8 L443.9 459.5 L445.6 451.2 L447.4 442.7 L449.2 434.1 L451.0 425.3 L452.9 416.4 M418.7 691.6 L419.8 686.2 L420.8 680.7 L421.9 675.2 L423.0 669.6 L424.1 664.0 L425.2 658.3 L426.3 652.5 L427.5 646.7 L428.6 640.8 L429.8 634.9 L431.0 628.9 L432.2 622.8 L433.4 616.6 L434.6 610.4 L435.9 604.1 L437.1 597.7 L438.4 591.3 L439.7 584.7 L441.0 578.1 L442.3 571.4 L443.7 564.7 L445.1 557.8 L446.5 550.8 L447.9 543.8 L449.3 536.7 L450.7 529.4 L452.2 522.1 L453.7 514.7 L455.2 507.1 L456.8 499.5 L458.3 491.7 L459.9 483.9 L461.5 475.9 L463.2 467.8 L464.9 459.5 L466.6 451.2 L468.3 442.7 L470.1 434.1 L471.8 425.3 L473.7 416.4 M461.5 691.6 L462.5 686.2 L463.5 680.7 L464.5 675.2 L465.6 669.6 L466.6 664.0 L467.7 658.3 L468.7 652.5 L469.8 646.7 L470.9 640.8 L472.0 634.9 L473.1 628.9 L474.3 622.8 L475.4 616.6 L476.6 610.4 L477.8 604.1 L479.0 597.7 L480.2 591.3 L481.5 584.7 L482.7 578.1 L484.0 571.4 L485.3 564.7 L486.6 557.8 L487.9 550.8 L489.2 543.8 L490.6 536.7 L492.0 529.4 L493.4 522.1 L494.8 514.7 L496.3 507.1 L497.7 499.5 L499.2 491.7 L500.8 483.9 L502.3 475.9 L503.9 467.8 L505.5 459.5 L507.1 451.2 L508.8 442.7 L510.4 434.1 L512.2 425.3 L513.9 416.4 M493.6 691.6 L494.6 686.2 L495.6 680.7 L496.5 675.2 L497.5 669.6 L498.5 664.0 L499.6 658.3 L500.6 652.5 L501.6 646.7 L502.7 640.8 L503.8 634.9 L504.8 628.9 L505.9 622.8 L507.0 616.6 L508.2 610.4 L509.3 604.1 L510.5 597.7 L511.6 591.3 L512.8 584.7 L514.0 578.1 L515.2 571.4 L516.5 564.7 L517.7 557.8 L519.0 550.8 L520.3 543.8 L521.6 536.7 L523.0 529.4 L524.3 522.1 L525.7 514.7 L527.1 507.1 L528.5 499.5 L529.9 491.7 L531.4 483.9 L532.9 475.9 L534.4 467.8 L536.0 459.5 L537.5 451.2 L539.1 442.7 L540.8 434.1 L542.4 425.3 L544.1 416.4 M519.7 691.6 L520.6 686.2 L521.5 680.7 L522.5 675.2 L523.5 669.6 L524.4 664.0 L525.4 658.3 L526.4 652.5 L527.4 646.7 L528.4 640.8 L529.5 634.9 L530.5 628.9 L531.6 622.8 L532.6 616.6 L533.7 610.4 L534.8 604.1 L535.9 597.7 L537.1 591.3 L538.2 584.7 L539.4 578.1 L540.6 571.4 L541.8 564.7 L543.0 557.8 L544.2 550.8 L545.5 543.8 L546.8 536.7 L548.0 529.4 L549.4 522.1 L550.7 514.7 L552.0 507.1 L553.4 499.5 L554.8 491.7 L556.2 483.9 L557.7 475.9 L559.2 467.8 L560.7 459.5 L562.2 451.2 L563.7 442.7 L565.3 434.1 L566.9 425.3 L568.6 416.4 M539.6 691.6 L540.5 686.2 L541.4 680.7 L542.4 675.2 L543.3 669.6 L544.2 664.0 L545.2 658.3 L546.2 652.5 L547.2 646.7 L548.1 640.8 L549.1 634.9 L550.2 628.9 L551.2 622.8 L552.2 616.6 L553.3 610.4 L554.4 604.1 L555.5 597.7 L556.6 591.3 L557.7 584.7 L558.8 578.1 L560.0 571.4 L561.1 564.7 L562.3 557.8 L563.5 550.8 L564.8 543.8 L566.0 536.7 L567.3 529.4 L568.5 522.1 L569.8 514.7 L571.2 507.1 L572.5 499.5 L573.9 491.7 L575.2 483.9 L576.7 475.9 L578.1 467.8 L579.6 459.5 L581.0 451.2 L582.6 442.7 L584.1 434.1 L585.7 425.3 L587.3 416.4 M559.8 691.6 L560.6 686.2 L561.5 680.7 L562.4 675.2 L563.3 669.6 L564.2 664.0 L565.2 658.3 L566.1 652.5 L567.1 646.7 L568.0 640.8 L569.0 634.9 L570.0 628.9 L571.0 622.8 L572.0 616.6 L573.0 610.4 L574.1 604.1 L575.1 597.7 L576.2 591.3 L577.3 584.7 L578.4 578.1 L579.5 571.4 L580.7 564.7 L581.8 557.8 L583.0 550.8 L584.2 543.8 L585.4 536.7 L586.6 529.4 L587.9 522.1 L589.1 514.7 L590.4 507.1 L591.7 499.5 L593.1 491.7 L594.4 483.9 L595.8 475.9 L597.2 467.8 L598.6 459.5 L600.1 451.2 L601.5 442.7 L603.0 434.1 L604.6 425.3 L606.1 416.4 M575.2 691.6 L576.0 686.2 L576.9 680.7 L577.8 675.2 L578.7 669.6 L579.5 664.0 L580.5 658.3 L581.4 652.5 L582.3 646.7 L583.2 640.8 L584.2 634.9 L585.2 628.9 L586.2 622.8 L587.1 616.6 L588.2 610.4 L589.2 604.1 L590.2 597.7 L591.3 591.3 L592.3 584.7 L593.4 578.1 L594.5 571.4 L595.6 564.7 L596.8 557.8 L597.9 550.8 L599.1 543.8 L600.2 536.7 L601.4 529.4 L602.7 522.1 L603.9 514.7 L605.2 507.1 L606.4 499.5 L607.7 491.7 L609.1 483.9 L610.4 475.9 L611.8 467.8 L613.2 459.5 L614.6 451.2 L616.1 442.7 L617.5 434.1 L619.0 425.3 L620.6 416.4" stroke="#f0148c" stroke-width="1.4" stroke-dasharray="2 5.8"/>
<path d="M148.6 55.2 L154.6 72.5 L160.6 89.2 L166.4 105.4 L172.1 121.2 L177.7 136.5 L183.2 151.3 L188.6 165.8 L194.0 179.9 L199.2 193.6 L204.3 207.0 L209.4 220.1 L214.3 232.9 L219.1 245.3 L223.9 257.5 L228.5 269.4 L233.0 281.1 L237.4 292.5 L241.8 303.6 L246.0 314.6 L250.1 325.3 L254.1 335.8 L258.1 346.1 L261.9 356.2 L265.6 366.2 L269.3 375.9 L272.8 385.5 L276.2 394.9 L279.6 404.2 L282.8 413.2 L286.0 422.2 L289.1 431.0 L292.1 439.6 L295.0 448.2 L297.8 456.5 L300.6 464.8 L303.3 472.9 L305.9 480.9 L308.4 488.8 L310.8 496.6 L313.2 504.3 L315.6 511.8 L317.8 519.3 L320.0 526.6 L322.1 533.9 L324.2 541.0 L326.2 548.1 L328.2 555.1 L330.1 561.9 L332.0 568.7 L333.8 575.4 L335.5 582.1 L337.2 588.6 L338.9 595.1 L340.5 601.5 L342.1 607.8 L343.5 613.4 L350.0 625.0 L355.5 634.0" stroke="#a0a0a0" stroke-width="2" stroke-linejoin="round"/>
<path d="M302.0 44.4 L311.2 65.0 L315.0 90.0 L325.0 115.0 L330.0 140.0 L340.0 170.0 L353.5 198.5 L369.5 232.5 L373.0 270.0 L380.0 302.5 L389.5 322.5 L391.2 350.0 L395.0 370.0 L400.0 383.0 L412.5 412.5 L422.5 442.5 L438.8 485.0 L439.5 500.0 L445.0 527.5 L450.0 537.5 L483.2 603.8 L482.0 612.5 L477.5 620.0 L472.5 625.0 L450.0 628.8 L430.0 635.5 L392.5 642.5 L361.5 644.0" stroke="#fa2020" stroke-width="2" stroke-linejoin="round"/>
<path d="M237.0 44.4 L239.2 67.5 L262.0 90.0 L260.0 100.0 L226.2 118.8 L263.8 139.2 L265.5 167.5 L267.0 197.5 L268.0 200.0 L275.0 230.0 L286.8 260.0 L313.8 269.5 L328.0 302.5 L291.2 323.0 L305.0 341.2 L302.5 362.5 L302.0 370.0 L305.5 407.5 L310.0 452.5 L312.5 487.5 L338.8 526.2 L339.2 545.0 L337.5 552.5 L337.5 607.5 L340.0 623.0 L345.5 629.0 L342.0 635.5 L349.0 642.5 L336.5 644.0" stroke="#0a28fa" stroke-width="2" stroke-linejoin="round"/>
</g>
<text transform="translate(279.7 411.8) scale(0.998 1)" font-size="10.6" fill="#f0148c" class="b">1</text>
<text transform="translate(333.5 411.8) scale(1.197 1)" font-size="10.6" fill="#f0148c" class="b">2</text>
<text transform="translate(367.2 411.8) scale(1.197 1)" font-size="10.6" fill="#f0148c" class="b">3</text>
<text transform="translate(392.0 411.8) scale(1.197 1)" font-size="10.6" fill="#f0148c" class="b">4</text>
<text transform="translate(427.7 411.8) scale(1.197 1)" font-size="10.6" fill="#f0148c" class="b">6</text>
<text transform="translate(454.0 411.8) scale(1.197 1)" font-size="10.6" fill="#f0148c" class="b">8</text>
<text transform="translate(476.0 411.8) scale(1.136 1)" font-size="10.6" textLength="12.3" lengthAdjust="spacing" fill="#f0148c" class="b">10</text>
<text transform="translate(517.5 411.8) scale(1.009 1)" font-size="10.6" textLength="12.4" lengthAdjust="spacing" fill="#f0148c" class="b">16</text>
<text transform="translate(545.0 411.8) scale(1.221 1)" font-size="10.6" textLength="12.3" lengthAdjust="spacing" fill="#f0148c" class="b">20</text>
<text transform="translate(569.0 411.8) scale(1.221 1)" font-size="10.6" textLength="12.3" lengthAdjust="spacing" fill="#f0148c" class="b">25</text>
<rect x="386" y="44" width="204.0" height="99" fill="#fff"/>
<rect x="386.5" y="44.5" width="203.5" height="94.0" fill="#fff" stroke="#000" stroke-width="1"/>
<line x1="390" y1="53.0" x2="410" y2="53.0" stroke="#fa2020" stroke-width="2"/>
<text transform="translate(419.2 58.1) scale(1.120 1)" font-size="14.3" textLength="92.8" lengthAdjust="spacing" fill="#000" >Temperature</text>
<line x1="390" y1="66.0" x2="410" y2="66.0" stroke="#0a28fa" stroke-width="2"/>
<text transform="translate(419.2 71.2) scale(1.120 1)" font-size="14.3" textLength="66.1" lengthAdjust="spacing" fill="#000" >Dewpoint</text>
<line x1="390" y1="79.0" x2="410" y2="79.0" stroke="#a0a0a0" stroke-width="2"/>
<text transform="translate(419.2 84.4) scale(1.120 1)" font-size="14.3" textLength="129.1" lengthAdjust="spacing" fill="#000" >Parcel Trajectory</text>
<line x1="390" y1="92.5" x2="410" y2="92.5" stroke="#f08228" stroke-width="1"/>
<text transform="translate(419.2 97.5) scale(1.120 1)" font-size="14.3" textLength="87.5" lengthAdjust="spacing" fill="#000" >Dry Adiabat</text>
<line x1="390" y1="105.5" x2="410" y2="105.5" stroke="#00dc00" stroke-width="1"/>
<text transform="translate(419.2 110.6) scale(1.120 1)" font-size="14.3" textLength="89.3" lengthAdjust="spacing" fill="#000" >Wet Adiabat</text>
<line x1="390" y1="118.5" x2="410" y2="118.5" stroke="#00a0ff" stroke-width="1"/>
<text transform="translate(419.2 123.8) scale(1.120 1)" font-size="14.3" textLength="63.4" lengthAdjust="spacing" fill="#000" >Isotherm</text>
<path d="M390 131.5h2M399 131.5h2M407 131.5h2" stroke="#f0148c" stroke-width="1"/>
<text transform="translate(419.2 136.9) scale(1.120 1)" font-size="14.3" textLength="92.0" lengthAdjust="spacing" fill="#000" >Mixing Ratio</text>
<rect x="63.0" y="44.0" width="527.0" height="646.0" fill="none" stroke="#000" stroke-width="2"/>
<line x1="59" y1="44.5" x2="63.0" y2="44.5" stroke="#000" stroke-width="1"/>
<text transform="translate(28.2 49.5) scale(0.941 1)" font-size="15.8" textLength="27.6" lengthAdjust="spacing" fill="#000" >300</text>
<line x1="59" y1="126.5" x2="63.0" y2="126.5" stroke="#000" stroke-width="1"/>
<text transform="translate(28.2 132.1) scale(0.941 1)" font-size="15.8" textLength="27.6" lengthAdjust="spacing" fill="#000" >350</text>
<line x1="59" y1="198.5" x2="63.0" y2="198.5" stroke="#000" stroke-width="1"/>
<text transform="translate(28.2 203.9) scale(0.941 1)" font-size="15.8" textLength="27.6" lengthAdjust="spacing" fill="#000" >400</text>
<line x1="59" y1="261.5" x2="63.0" y2="261.5" stroke="#000" stroke-width="1"/>
<text transform="translate(28.2 267.2) scale(0.941 1)" font-size="15.8" textLength="27.6" lengthAdjust="spacing" fill="#000" >450</text>
<line x1="59" y1="318.5" x2="63.0" y2="318.5" stroke="#000" stroke-width="1"/>
<text transform="translate(28.2 323.9) scale(0.941 1)" font-size="15.8" textLength="27.6" lengthAdjust="spacing" fill="#000" >500</text>
<line x1="59" y1="369.5" x2="63.0" y2="369.5" stroke="#000" stroke-width="1"/>
<text transform="translate(28.2 375.1) scale(0.941 1)" font-size="15.8" textLength="27.6" lengthAdjust="spacing" fill="#000" >550</text>
<line x1="59" y1="416.5" x2="63.0" y2="416.5" stroke="#000" stroke-width="1"/>
<text transform="translate(28.2 421.9) scale(0.941 1)" font-size="15.8" textLength="27.6" lengthAdjust="spacing" fill="#000" >600</text>
<line x1="59" y1="459.5" x2="63.0" y2="459.5" stroke="#000" stroke-width="1"/>
<text transform="translate(28.2 464.9) scale(0.941 1)" font-size="15.8" textLength="27.6" lengthAdjust="spacing" fill="#000" >650</text>
<line x1="59" y1="499.5" x2="63.0" y2="499.5" stroke="#000" stroke-width="1"/>
<text transform="translate(28.2 504.8) scale(0.941 1)" font-size="15.8" textLength="27.6" lengthAdjust="spacing" fill="#000" >700</text>
<line x1="59" y1="536.5" x2="63.0" y2="536.5" stroke="#000" stroke-width="1"/>
<text transform="translate(28.2 541.9) scale(0.941 1)" font-size="15.8" textLength="27.6" lengthAdjust="spacing" fill="#000" >750</text>
<line x1="59" y1="571.5" x2="63.0" y2="571.5" stroke="#000" stroke-width="1"/>
<text transform="translate(28.2 576.6) scale(0.941 1)" font-size="15.8" textLength="27.6" lengthAdjust="spacing" fill="#000" >800</text>
<line x1="59" y1="603.5" x2="63.0" y2="603.5" stroke="#000" stroke-width="1"/>
<text transform="translate(28.2 609.2) scale(0.941 1)" font-size="15.8" textLength="27.6" lengthAdjust="spacing" fill="#000" >850</text>
<line x1="59" y1="634.5" x2="63.0" y2="634.5" stroke="#000" stroke-width="1"/>
<text transform="translate(28.2 639.9) scale(0.941 1)" font-size="15.8" textLength="27.6" lengthAdjust="spacing" fill="#000" >900</text>
<line x1="59" y1="663.5" x2="63.0" y2="663.5" stroke="#000" stroke-width="1"/>
<text transform="translate(28.2 669.0) scale(0.941 1)" font-size="15.8" textLength="27.6" lengthAdjust="spacing" fill="#000" >950</text>
<text transform="translate(29.6 19.8) scale(1.075 1)" font-size="16.0" textLength="29.6" lengthAdjust="spacing" fill="#000" >hPa</text>
<text transform="translate(40.8 709.6) scale(1.250 1)" font-size="15.8" textLength="28.0" lengthAdjust="spacing" fill="#000" >−40</text>
<text transform="translate(106.8 709.6) scale(1.250 1)" font-size="15.8" textLength="28.0" lengthAdjust="spacing" fill="#000" >−30</text>
<text transform="translate(172.8 709.6) scale(1.250 1)" font-size="15.8" textLength="28.0" lengthAdjust="spacing" fill="#000" >−20</text>
<text transform="translate(238.8 709.6) scale(1.250 1)" font-size="15.8" textLength="28.0" lengthAdjust="spacing" fill="#000" >−10</text>
<text transform="translate(317.6 709.6) scale(1.250 1)" font-size="15.8" fill="#000" >0</text>
<text transform="translate(379.1 709.6) scale(1.132 1)" font-size="15.8" textLength="18.1" lengthAdjust="spacing" fill="#000" >10</text>
<text transform="translate(445.1 709.6) scale(1.132 1)" font-size="15.8" textLength="18.1" lengthAdjust="spacing" fill="#000" >20</text>
<text transform="translate(511.1 709.6) scale(1.132 1)" font-size="15.8" textLength="18.1" lengthAdjust="spacing" fill="#000" >30</text>
<text transform="translate(577.1 709.6) scale(1.132 1)" font-size="15.8" textLength="18.1" lengthAdjust="spacing" fill="#000" >40</text>
<text transform="translate(183.6 727.8) scale(1.120 1)" font-size="18.0" textLength="284.8" lengthAdjust="spacing" fill="#000" >Dewpoint / Temperature (°C)</text>
<text transform="translate(595.6 19.7) scale(1.220 1)" font-size="15.0" textLength="20.5" lengthAdjust="spacing" fill="#000" >km</text>
<text transform="translate(596.0 40.6) scale(0.988 1)" font-size="15.0" textLength="29.6" lengthAdjust="spacing" fill="#000" >ASL</text>
<line x1="590.0" y1="80.5" x2="597" y2="80.5" stroke="#000" stroke-width="1"/>
<text transform="translate(600.8 85.6) scale(1.125 1)" font-size="15.8" fill="#000" >9</text>
<line x1="590.0" y1="157.5" x2="597" y2="157.5" stroke="#000" stroke-width="1"/>
<text transform="translate(600.8 163.4) scale(1.125 1)" font-size="15.8" fill="#000" >8</text>
<line x1="590.0" y1="231.5" x2="597" y2="231.5" stroke="#000" stroke-width="1"/>
<text transform="translate(600.8 236.6) scale(1.125 1)" font-size="15.8" fill="#000" >7</text>
<line x1="590.0" y1="302.5" x2="597" y2="302.5" stroke="#000" stroke-width="1"/>
<text transform="translate(600.8 307.9) scale(1.125 1)" font-size="15.8" fill="#000" >6</text>
<line x1="590.0" y1="373.5" x2="597" y2="373.5" stroke="#000" stroke-width="1"/>
<text transform="translate(600.8 378.8) scale(1.125 1)" font-size="15.8" fill="#000" >5</text>
<line x1="590.0" y1="442.5" x2="597" y2="442.5" stroke="#000" stroke-width="1"/>
<text transform="translate(600.8 448.4) scale(1.125 1)" font-size="15.8" fill="#000" >4</text>
<line x1="590.0" y1="507.5" x2="597" y2="507.5" stroke="#000" stroke-width="1"/>
<text transform="translate(600.8 513.0) scale(1.125 1)" font-size="15.8" fill="#000" >3</text>
<line x1="590.0" y1="571.5" x2="597" y2="571.5" stroke="#000" stroke-width="1"/>
<text transform="translate(600.8 577.5) scale(1.125 1)" font-size="15.8" fill="#000" >2</text>
<line x1="590.0" y1="635.5" x2="597" y2="635.5" stroke="#000" stroke-width="1"/>
<text x="602.5" y="640.6" font-size="15.8" fill="#000" text-anchor="start" >1</text>
<line x1="590.0" y1="613.5" x2="601" y2="613.5" stroke="#000" stroke-width="1"/>
<text transform="translate(608.7 618.8) scale(1.006 1)" font-size="15.5" textLength="29.6" lengthAdjust="spacing" fill="#000" >LCL</text>
<g transform="translate(628.3,508) rotate(-90)"><text transform="translate(0.0 0.0) scale(1.120 1)" font-size="15.0" textLength="150.0" lengthAdjust="spacing" fill="#000" >Mixing Ratio (g/kg)</text></g>
<line x1="681.5" y1="44" x2="681.5" y2="690" stroke="#000" stroke-width="1"/>
<path d="M681.7 44.4 L653.3 30.5 M653.3 30.5 L659.1 19.2 M657.4 32.5 L663.2 21.2 M661.6 34.5 L667.4 23.2 M665.7 36.6 L671.5 25.3 M669.8 38.6 L672.7 32.9" stroke="#9a00cc" stroke-width="0.8" fill="none"/><circle cx="681.7" cy="44.4" r="2.9" fill="#9a00cc"/>
<path d="M681.7 198.4 L651.2 190.2 M651.2 190.2 L654.5 178.3 M655.7 191.4 L658.9 179.5 M660.1 192.6 L663.3 180.7 M664.6 193.8 L667.8 181.9" stroke="#7000e0" stroke-width="0.8" fill="none"/><circle cx="681.7" cy="198.4" r="2.9" fill="#7000e0"/>
<path d="M681.7 318.5 L657.0 299.4 M657.0 299.4 L666.5 289.2 M660.6 302.2 L670.1 292.0 M664.3 305.0 L673.8 294.8 M667.9 307.8 L677.4 297.6" stroke="#7000e0" stroke-width="0.8" fill="none"/><circle cx="681.7" cy="318.5" r="2.9" fill="#7000e0"/>
<path d="M681.7 499.4 L659.1 477.4 M659.1 477.4 L669.3 468.2 M662.4 480.6 L672.6 471.4 M665.7 483.8 L675.9 474.6" stroke="#0a96ff" stroke-width="0.8" fill="none"/><circle cx="681.7" cy="499.4" r="2.9" fill="#0a96ff"/>
<path d="M681.6 603.4 L659.1 582.2 M659.1 582.2 L669.7 573.2" stroke="#8ce628" stroke-width="0.8" fill="none"/><circle cx="681.6" cy="603.4" r="2.9" fill="#8ce628"/>
<path d="M681.6 644.8 L661.1 621.1 M664.2 624.7 L669.4 621.7" stroke="#ebd728" stroke-width="0.8" fill="none"/><circle cx="681.6" cy="644.8" r="2.9" fill="#ebd728"/>
<text transform="translate(93.4 29.2) scale(1.180 1)" font-size="17.6" textLength="70.5" lengthAdjust="spacing" fill="#000" class="b">41°08'N</text>
<text transform="translate(190.8 29.2) scale(1.180 1)" font-size="17.6" textLength="83.7" lengthAdjust="spacing" fill="#000" class="b">259°41'W</text>
<text transform="translate(303.4 29.2) scale(1.180 1)" font-size="17.6" textLength="48.2" lengthAdjust="spacing" fill="#000" class="b">850m</text>
<text transform="translate(377.0 29.2) scale(1.094 1)" font-size="17.6" textLength="34.4" lengthAdjust="spacing" fill="#000" class="b">ASL</text>
<text transform="translate(651.2 29.2) scale(1.180 1)" font-size="17.6" textLength="104.4" lengthAdjust="spacing" fill="#000" class="b">04.12.2021</text>
<text transform="translate(786.6 29.2) scale(1.114 1)" font-size="17.6" textLength="60.8" lengthAdjust="spacing" fill="#000" class="b">00GMT</text>
<text transform="translate(871.5 29.2) scale(1.170 1)" font-size="17.6" textLength="53.4" lengthAdjust="spacing" fill="#000" class="b">(Base:</text>
<text transform="translate(950.4 29.2) scale(1.250 1)" font-size="17.6" textLength="26.6" lengthAdjust="spacing" fill="#000" class="b">12)</text>
<defs><clipPath id="hc"><rect x="727.0" y="44.0" width="182.0" height="172.0"/></clipPath></defs>
<g clip-path="url(#hc)" fill="none">
<ellipse cx="818.5" cy="130.5" rx="30.4" ry="28.8" stroke="#aaa" stroke-width="1"/>
<ellipse cx="818.5" cy="130.5" rx="60.8" ry="57.6" stroke="#aaa" stroke-width="1"/>
<ellipse cx="818.5" cy="130.5" rx="91.2" ry="86.4" stroke="#aaa" stroke-width="1"/>
</g>
<path d="M727.0 130.5 L909.0 130.5 M818.5 44.0 L818.5 216.0 M727.5 128.0 L727.5 133.0 M815.0 44.5 L821.0 44.5 M737.5 128.0 L737.5 133.0 M815.0 53.5 L821.0 53.5 M747.5 128.0 L747.5 133.0 M815.0 63.5 L821.0 63.5 M757.5 128.0 L757.5 133.0 M815.0 72.5 L821.0 72.5 M767.5 128.0 L767.5 133.0 M815.0 82.5 L821.0 82.5 M777.5 128.0 L777.5 133.0 M815.0 92.5 L821.0 92.5 M788.5 128.0 L788.5 133.0 M815.0 101.5 L821.0 101.5 M798.5 128.0 L798.5 133.0 M815.0 111.5 L821.0 111.5 M808.5 128.0 L808.5 133.0 M815.0 120.5 L821.0 120.5 M828.5 128.0 L828.5 133.0 M815.0 140.5 L821.0 140.5 M838.5 128.0 L838.5 133.0 M815.0 149.5 L821.0 149.5 M848.5 128.0 L848.5 133.0 M815.0 159.5 L821.0 159.5 M859.5 128.0 L859.5 133.0 M815.0 168.5 L821.0 168.5 M869.5 128.0 L869.5 133.0 M815.0 178.5 L821.0 178.5 M879.5 128.0 L879.5 133.0 M815.0 188.5 L821.0 188.5 M889.5 128.0 L889.5 133.0 M815.0 197.5 L821.0 197.5 M899.5 128.0 L899.5 133.0 M815.0 207.5 L821.0 207.5" stroke="#000" stroke-width="1" fill="none"/>
<g transform="translate(797.7,148.2) rotate(-45)"><text transform="translate(-7.5 4.2) scale(1.079 1)" font-size="12.0" textLength="13.9" lengthAdjust="spacing" fill="#a4a4a4" class="b">15</text></g>
<g transform="translate(775.7,171.0) rotate(-45)"><text transform="translate(-7.5 4.2) scale(1.079 1)" font-size="12.0" textLength="13.9" lengthAdjust="spacing" fill="#a4a4a4" class="b">30</text></g>
<g transform="translate(755.0,191.7) rotate(-45)"><text transform="translate(-7.5 4.2) scale(1.079 1)" font-size="12.0" textLength="13.9" lengthAdjust="spacing" fill="#a4a4a4" class="b">45</text></g>
<text transform="translate(733.0 57.3) scale(1.177 1)" font-size="13.0" textLength="10.6" lengthAdjust="spacing" fill="#000" >kt</text>
<path d="M822.4 134.5 L862.0 170.9 L883.5 182.5 L900.8 151.3 L896.9 165.7" stroke="#000" stroke-width="1" fill="none"/>
<circle cx="822.4" cy="134.5" r="2.6" fill="#000"/><circle cx="896.9" cy="165.7" r="2.6" fill="#000"/>
<path d="M819.8 132.2 L846 167" stroke="#000" stroke-width="1" fill="none"/>
<path d="M849.4 171.4 L841.5 167.2 L848.9 162 Z" fill="#000"/>
<rect x="727.0" y="44.0" width="182.0" height="172.0" fill="none" stroke="#000" stroke-width="2"/>
<rect x="727.5" y="233.5" width="200.0" height="470.0" fill="none" stroke="#000" stroke-width="1"/>
<line x1="727.5" y1="302.5" x2="927.5" y2="302.5" stroke="#000" stroke-width="1"/>
<line x1="727.5" y1="458.5" x2="927.5" y2="458.5" stroke="#000" stroke-width="1"/>
<line x1="727.5" y1="591.5" x2="927.5" y2="591.5" stroke="#000" stroke-width="1"/>
<text transform="translate(732.3 252.8) scale(1.143 1)" font-size="16.2" fill="#000" >K</text>
<text transform="translate(873.5 252.8) scale(1.241 1)" font-size="16.2" fill="#000" >9</text>
<text transform="translate(732.8 274.3) scale(1.120 1)" font-size="16.2" textLength="99.6" lengthAdjust="spacing" fill="#000" >Totals Totals</text>
<text transform="translate(874.0 274.3) scale(1.077 1)" font-size="16.2" textLength="18.6" lengthAdjust="spacing" fill="#000" >40</text>
<text transform="translate(732.8 295.6) scale(1.120 1)" font-size="16.2" textLength="68.3" lengthAdjust="spacing" fill="#000" >PW (cm)</text>
<text transform="translate(874.0 295.6) scale(1.120 1)" font-size="16.2" textLength="33.5" lengthAdjust="spacing" fill="#000" >1.08</text>
<text transform="translate(732.8 342.6) scale(1.120 1)" font-size="16.2" textLength="79.5" lengthAdjust="spacing" fill="#000" >Temp (°C)</text>
<text transform="translate(874.0 342.6) scale(1.101 1)" font-size="16.2" textLength="23.6" lengthAdjust="spacing" fill="#000" >2.6</text>
<text transform="translate(732.8 364.1) scale(1.111 1)" font-size="16.2" textLength="79.2" lengthAdjust="spacing" fill="#000" >Dewp (°C)</text>
<text transform="translate(874.0 364.1) scale(1.120 1)" font-size="16.2" textLength="36.6" lengthAdjust="spacing" fill="#000" >−1.2</text>
<text x="732.5" y="385.6" font-size="15.5" font-style="italic" font-weight="bold" class="b">θ</text>
<text x="741.8" y="387.1" font-size="8" font-weight="bold" class="b">E</text>
<text transform="translate(748.5 385.6) scale(1.056 1)" font-size="16.2" textLength="22.7" lengthAdjust="spacing" fill="#000" >(K)</text>
<text transform="translate(874.0 385.6) scale(1.121 1)" font-size="16.2" textLength="28.1" lengthAdjust="spacing" fill="#000" >293</text>
<text transform="translate(732.8 407.6) scale(1.120 1)" font-size="16.2" textLength="92.0" lengthAdjust="spacing" fill="#000" >Lifted Index</text>
<text transform="translate(874.0 407.6) scale(1.077 1)" font-size="16.2" textLength="18.6" lengthAdjust="spacing" fill="#000" >22</text>
<text transform="translate(732.8 429.0) scale(1.093 1)" font-size="16.2" textLength="71.3" lengthAdjust="spacing" fill="#000" >CAPE (J)</text>
<text transform="translate(873.5 429.0) scale(1.241 1)" font-size="16.2" fill="#000" >0</text>
<text transform="translate(732.8 450.5) scale(1.119 1)" font-size="16.2" textLength="54.5" lengthAdjust="spacing" fill="#000" >CIN (J)</text>
<text transform="translate(873.5 450.5) scale(1.241 1)" font-size="16.2" fill="#000" >0</text>
<text transform="translate(732.8 497.8) scale(1.120 1)" font-size="16.2" textLength="114.3" lengthAdjust="spacing" fill="#000" >Pressure (mb)</text>
<text transform="translate(874.0 497.8) scale(1.121 1)" font-size="16.2" textLength="28.1" lengthAdjust="spacing" fill="#000" >736</text>
<text x="732.5" y="519.2" font-size="15.5" font-style="italic" font-weight="bold" class="b">θ</text>
<text x="741.8" y="520.7" font-size="8" font-weight="bold" class="b">E</text>
<text transform="translate(759.0 519.2) scale(1.102 1)" font-size="16.2" textLength="22.7" lengthAdjust="spacing" fill="#000" >(K)</text>
<text transform="translate(874.0 519.2) scale(1.121 1)" font-size="16.2" textLength="28.1" lengthAdjust="spacing" fill="#000" >316</text>
<text transform="translate(732.8 540.6) scale(1.120 1)" font-size="16.2" textLength="92.0" lengthAdjust="spacing" fill="#000" >Lifted Index</text>
<text transform="translate(873.5 540.6) scale(1.241 1)" font-size="16.2" fill="#000" >6</text>
<text transform="translate(732.8 562.3) scale(1.093 1)" font-size="16.2" textLength="71.3" lengthAdjust="spacing" fill="#000" >CAPE (J)</text>
<text transform="translate(873.5 562.3) scale(1.241 1)" font-size="16.2" fill="#000" >0</text>
<text transform="translate(732.8 584.5) scale(1.119 1)" font-size="16.2" textLength="54.5" lengthAdjust="spacing" fill="#000" >CIN (J)</text>
<text transform="translate(873.5 584.5) scale(1.241 1)" font-size="16.2" fill="#000" >0</text>
<text transform="translate(732.8 632.0) scale(0.907 1)" font-size="16.2" textLength="23.2" lengthAdjust="spacing" fill="#000" >EH</text>
<text transform="translate(874.0 632.0) scale(1.210 1)" font-size="16.2" textLength="27.3" lengthAdjust="spacing" fill="#000" >−11</text>
<text transform="translate(732.8 653.6) scale(0.938 1)" font-size="16.2" textLength="46.9" lengthAdjust="spacing" fill="#000" >SREH</text>
<text transform="translate(874.0 653.6) scale(1.132 1)" font-size="16.2" textLength="18.5" lengthAdjust="spacing" fill="#000" >33</text>
<text transform="translate(732.8 675.5) scale(1.071 1)" font-size="16.2" textLength="52.3" lengthAdjust="spacing" fill="#000" >StmDir</text>
<text transform="translate(874.0 675.5) scale(1.120 1)" font-size="16.2" textLength="35.7" lengthAdjust="spacing" fill="#000" >324°</text>
<text transform="translate(732.8 697.0) scale(1.120 1)" font-size="16.2" textLength="96.4" lengthAdjust="spacing" fill="#000" >StmSpd (kt)</text>
<text transform="translate(874.0 697.0) scale(1.132 1)" font-size="16.2" textLength="18.5" lengthAdjust="spacing" fill="#000" >26</text>
<text transform="translate(787.0 321.2) scale(1.118 1)" font-size="16.2" textLength="59.1" lengthAdjust="spacing" fill="#000" >Surface</text>
<text transform="translate(753.0 476.6) scale(1.120 1)" font-size="16.2" textLength="112.5" lengthAdjust="spacing" fill="#000" >Most Unstable</text>
<text transform="translate(771.5 610.4) scale(1.100 1)" font-size="16.2" textLength="84.5" lengthAdjust="spacing" fill="#000" >Hodograph</text>
<text transform="translate(714.0 729.5) scale(1.250 1)" font-size="21.0" fill="#000" >©</text>
<text transform="translate(738.0 728.0) scale(1.120 1)" font-size="17.0" textLength="189.7" lengthAdjust="spacing" fill="#000" class="b">weatheronline.co.uk</text>
</svg>
</body></html>
